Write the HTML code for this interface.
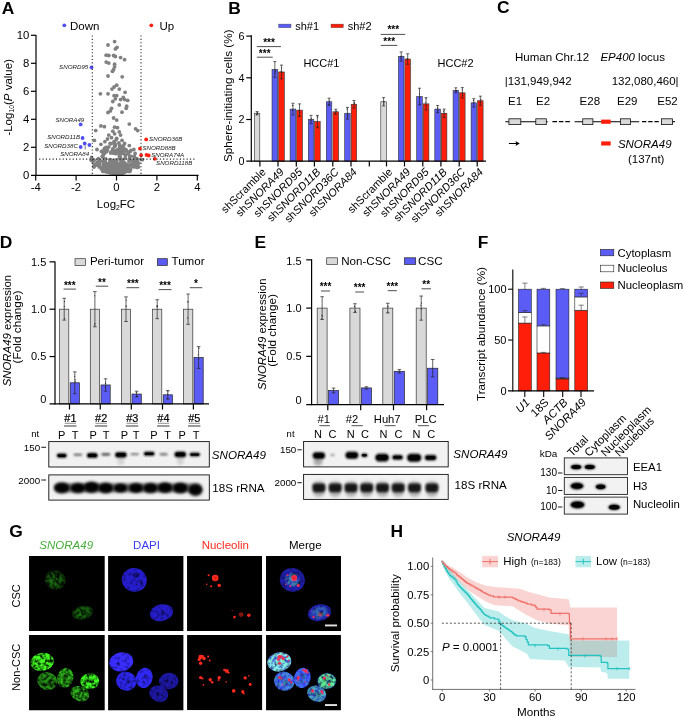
<!DOCTYPE html>
<html lang="en"><head><meta charset="utf-8"><title>Figure</title>
<style>
html,body{margin:0;padding:0;background:#fff;}
svg{display:block;font-family:'Liberation Sans', Arial, sans-serif;}
</style></head>
<body>
<svg width="685" height="718" viewBox="0 0 685 718">
<defs>
<filter id="b1" x="-50%" y="-50%" width="200%" height="200%"><feGaussianBlur stdDeviation="0.9"/></filter>
<filter id="b2" x="-50%" y="-50%" width="200%" height="200%"><feGaussianBlur stdDeviation="1.6"/></filter>
<filter id="b05" x="-50%" y="-50%" width="200%" height="200%"><feGaussianBlur stdDeviation="0.5"/></filter>
<filter id="b03" x="-50%" y="-50%" width="200%" height="200%"><feGaussianBlur stdDeviation="0.35"/></filter>
<filter id="texg" filterUnits="userSpaceOnUse" x="0" y="540" width="360" height="178" color-interpolation-filters="sRGB">
<feGaussianBlur in="SourceGraphic" stdDeviation="0.75" result="b"/>
<feTurbulence type="fractalNoise" baseFrequency="0.3" numOctaves="2" seed="4" result="n"/>
<feColorMatrix in="n" type="matrix" values="0 2.4 0 0 -0.52  0 2.4 0 0 -0.52  0 2.4 0 0 -0.52  0 0 0 0 1" result="n2"/>
<feComposite in="b" in2="n2" operator="arithmetic" k1="1.0" k2="0.05" k3="0" k4="0"/>
</filter>
<filter id="texb" filterUnits="userSpaceOnUse" x="0" y="540" width="360" height="178" color-interpolation-filters="sRGB">
<feGaussianBlur in="SourceGraphic" stdDeviation="0.75" result="b"/>
<feTurbulence type="fractalNoise" baseFrequency="0.3" numOctaves="2" seed="11" result="n"/>
<feColorMatrix in="n" type="matrix" values="0 0 1.1 0 0.36  0 0 1.1 0 0.36  0 0 1.1 0 0.36  0 0 0 0 1" result="n2"/>
<feComposite in="b" in2="n2" operator="arithmetic" k1="1.0" k2="0.05" k3="0" k4="0"/>
</filter>
</defs>

<rect x="0" y="0" width="685" height="718" fill="#fff"/>
<text x="1.75" y="14.10" font-size="17.4" font-weight="bold">A</text>
<circle cx="114.6" cy="41.6" r="1.9" fill="#808080"/>
<circle cx="108.0" cy="45.0" r="1.9" fill="#808080"/>
<circle cx="117.0" cy="47.3" r="1.9" fill="#808080"/>
<circle cx="115.4" cy="48.9" r="1.9" fill="#808080"/>
<circle cx="106.2" cy="55.2" r="1.9" fill="#808080"/>
<circle cx="108.8" cy="55.5" r="1.9" fill="#808080"/>
<circle cx="113.6" cy="55.5" r="1.9" fill="#808080"/>
<circle cx="115.4" cy="56.5" r="1.9" fill="#808080"/>
<circle cx="120.6" cy="57.6" r="1.9" fill="#808080"/>
<circle cx="124.6" cy="59.7" r="1.9" fill="#808080"/>
<circle cx="106.2" cy="62.1" r="1.9" fill="#808080"/>
<circle cx="108.8" cy="63.1" r="1.9" fill="#808080"/>
<circle cx="114.6" cy="64.2" r="1.9" fill="#808080"/>
<circle cx="114.6" cy="66.8" r="1.9" fill="#808080"/>
<circle cx="113.6" cy="69.4" r="1.9" fill="#808080"/>
<circle cx="112.5" cy="71.3" r="1.9" fill="#808080"/>
<circle cx="108.0" cy="76.0" r="1.9" fill="#808080"/>
<circle cx="122.2" cy="76.8" r="1.9" fill="#808080"/>
<circle cx="116.7" cy="85.2" r="1.9" fill="#808080"/>
<circle cx="114.1" cy="87.0" r="1.9" fill="#808080"/>
<circle cx="112.0" cy="89.1" r="1.9" fill="#808080"/>
<circle cx="119.3" cy="89.1" r="1.9" fill="#808080"/>
<circle cx="125.1" cy="92.3" r="1.9" fill="#808080"/>
<circle cx="100.4" cy="93.8" r="1.9" fill="#808080"/>
<circle cx="108.0" cy="93.8" r="1.9" fill="#808080"/>
<circle cx="114.1" cy="95.7" r="1.9" fill="#808080"/>
<circle cx="123.3" cy="97.5" r="1.9" fill="#808080"/>
<circle cx="116.7" cy="95.7" r="1.9" fill="#808080"/>
<circle cx="115.4" cy="98.8" r="1.9" fill="#808080"/>
<circle cx="120.6" cy="99.6" r="1.9" fill="#808080"/>
<circle cx="124.6" cy="99.6" r="1.9" fill="#808080"/>
<circle cx="127.7" cy="100.4" r="1.9" fill="#808080"/>
<circle cx="112.8" cy="101.5" r="1.9" fill="#808080"/>
<circle cx="119.3" cy="104.9" r="1.9" fill="#808080"/>
<circle cx="126.7" cy="106.2" r="1.9" fill="#808080"/>
<circle cx="126.2" cy="108.3" r="1.9" fill="#808080"/>
<circle cx="111.5" cy="108.3" r="1.9" fill="#808080"/>
<circle cx="110.4" cy="110.9" r="1.9" fill="#808080"/>
<circle cx="108.0" cy="112.5" r="1.9" fill="#808080"/>
<circle cx="122.0" cy="112.2" r="1.9" fill="#808080"/>
<circle cx="113.6" cy="118.0" r="1.9" fill="#808080"/>
<circle cx="116.7" cy="120.1" r="1.9" fill="#808080"/>
<circle cx="129.3" cy="124.1" r="1.9" fill="#808080"/>
<circle cx="100.9" cy="125.9" r="1.9" fill="#808080"/>
<circle cx="104.4" cy="126.7" r="1.9" fill="#808080"/>
<circle cx="95.7" cy="130.6" r="1.9" fill="#808080"/>
<circle cx="114.6" cy="127.2" r="1.9" fill="#808080"/>
<circle cx="117.5" cy="127.7" r="1.9" fill="#808080"/>
<circle cx="135.6" cy="128.8" r="1.9" fill="#808080"/>
<circle cx="137.7" cy="130.6" r="1.9" fill="#808080"/>
<circle cx="112.8" cy="131.2" r="1.9" fill="#808080"/>
<circle cx="119.3" cy="131.9" r="1.9" fill="#808080"/>
<circle cx="114.6" cy="133.8" r="1.9" fill="#808080"/>
<circle cx="108.8" cy="135.1" r="1.9" fill="#808080"/>
<circle cx="120.6" cy="135.1" r="1.9" fill="#808080"/>
<circle cx="111.5" cy="137.7" r="1.9" fill="#808080"/>
<circle cx="116.7" cy="138.3" r="1.9" fill="#808080"/>
<circle cx="107.5" cy="139.0" r="1.9" fill="#808080"/>
<circle cx="122.0" cy="140.4" r="1.9" fill="#808080"/>
<circle cx="104.9" cy="141.7" r="1.9" fill="#808080"/>
<circle cx="114.1" cy="141.7" r="1.9" fill="#808080"/>
<circle cx="118.8" cy="143.0" r="1.9" fill="#808080"/>
<circle cx="110.1" cy="143.5" r="1.9" fill="#808080"/>
<circle cx="124.6" cy="143.5" r="1.9" fill="#808080"/>
<circle cx="100.9" cy="144.3" r="1.9" fill="#808080"/>
<circle cx="115.4" cy="145.6" r="1.9" fill="#808080"/>
<circle cx="120.6" cy="146.9" r="1.9" fill="#808080"/>
<circle cx="108.8" cy="146.9" r="1.9" fill="#808080"/>
<circle cx="129.3" cy="145.6" r="1.9" fill="#808080"/>
<circle cx="133.8" cy="149.5" r="1.9" fill="#808080"/>
<circle cx="97.0" cy="149.5" r="1.9" fill="#808080"/>
<circle cx="104.9" cy="148.2" r="1.9" fill="#808080"/>
<circle cx="112.8" cy="148.8" r="1.9" fill="#808080"/>
<circle cx="118.0" cy="149.5" r="1.9" fill="#808080"/>
<circle cx="123.3" cy="150.3" r="1.9" fill="#808080"/>
<circle cx="101.5" cy="151.4" r="1.9" fill="#808080"/>
<circle cx="94.4" cy="140.4" r="1.9" fill="#808080"/>
<circle cx="135.1" cy="153.5" r="1.9" fill="#808080"/>
<circle cx="128.5" cy="152.2" r="1.9" fill="#808080"/>
<circle cx="112.7" cy="173.0" r="1.85" fill="#808080"/>
<circle cx="122.3" cy="172.7" r="1.85" fill="#808080"/>
<circle cx="128.9" cy="171.5" r="1.85" fill="#808080"/>
<circle cx="119.0" cy="172.9" r="1.85" fill="#808080"/>
<circle cx="94.7" cy="164.2" r="1.85" fill="#808080"/>
<circle cx="94.1" cy="165.7" r="1.85" fill="#808080"/>
<circle cx="119.8" cy="150.5" r="1.85" fill="#808080"/>
<circle cx="120.8" cy="159.9" r="1.85" fill="#808080"/>
<circle cx="111.6" cy="172.0" r="1.85" fill="#808080"/>
<circle cx="114.6" cy="170.3" r="1.85" fill="#808080"/>
<circle cx="105.8" cy="158.8" r="1.85" fill="#808080"/>
<circle cx="119.0" cy="164.1" r="1.85" fill="#808080"/>
<circle cx="114.6" cy="173.0" r="1.85" fill="#808080"/>
<circle cx="105.7" cy="169.9" r="1.85" fill="#808080"/>
<circle cx="133.9" cy="163.1" r="1.85" fill="#808080"/>
<circle cx="120.4" cy="157.4" r="1.85" fill="#808080"/>
<circle cx="103.8" cy="150.7" r="1.85" fill="#808080"/>
<circle cx="109.2" cy="172.0" r="1.85" fill="#808080"/>
<circle cx="92.1" cy="160.0" r="1.85" fill="#808080"/>
<circle cx="114.6" cy="172.6" r="1.85" fill="#808080"/>
<circle cx="113.6" cy="153.1" r="1.85" fill="#808080"/>
<circle cx="116.1" cy="173.4" r="1.85" fill="#808080"/>
<circle cx="128.4" cy="154.1" r="1.85" fill="#808080"/>
<circle cx="122.5" cy="169.2" r="1.85" fill="#808080"/>
<circle cx="108.3" cy="170.7" r="1.85" fill="#808080"/>
<circle cx="116.9" cy="161.0" r="1.85" fill="#808080"/>
<circle cx="125.0" cy="168.2" r="1.85" fill="#808080"/>
<circle cx="103.4" cy="164.5" r="1.85" fill="#808080"/>
<circle cx="114.0" cy="152.0" r="1.85" fill="#808080"/>
<circle cx="112.2" cy="168.2" r="1.85" fill="#808080"/>
<circle cx="130.0" cy="171.3" r="1.85" fill="#808080"/>
<circle cx="126.7" cy="169.3" r="1.85" fill="#808080"/>
<circle cx="123.1" cy="169.2" r="1.85" fill="#808080"/>
<circle cx="115.9" cy="159.9" r="1.85" fill="#808080"/>
<circle cx="115.7" cy="173.1" r="1.85" fill="#808080"/>
<circle cx="127.5" cy="165.0" r="1.85" fill="#808080"/>
<circle cx="120.9" cy="171.1" r="1.85" fill="#808080"/>
<circle cx="118.9" cy="173.5" r="1.85" fill="#808080"/>
<circle cx="109.0" cy="172.1" r="1.85" fill="#808080"/>
<circle cx="114.6" cy="146.5" r="1.85" fill="#808080"/>
<circle cx="115.1" cy="151.9" r="1.85" fill="#808080"/>
<circle cx="127.8" cy="167.7" r="1.85" fill="#808080"/>
<circle cx="129.6" cy="156.8" r="1.85" fill="#808080"/>
<circle cx="115.3" cy="169.3" r="1.85" fill="#808080"/>
<circle cx="106.9" cy="170.6" r="1.85" fill="#808080"/>
<circle cx="104.8" cy="152.5" r="1.85" fill="#808080"/>
<circle cx="127.3" cy="170.6" r="1.85" fill="#808080"/>
<circle cx="112.6" cy="160.7" r="1.85" fill="#808080"/>
<circle cx="123.6" cy="153.4" r="1.85" fill="#808080"/>
<circle cx="103.8" cy="153.4" r="1.85" fill="#808080"/>
<circle cx="115.9" cy="150.3" r="1.85" fill="#808080"/>
<circle cx="101.6" cy="151.6" r="1.85" fill="#808080"/>
<circle cx="91.2" cy="160.2" r="1.85" fill="#808080"/>
<circle cx="133.5" cy="160.6" r="1.85" fill="#808080"/>
<circle cx="130.1" cy="159.9" r="1.85" fill="#808080"/>
<circle cx="134.5" cy="166.9" r="1.85" fill="#808080"/>
<circle cx="133.7" cy="156.6" r="1.85" fill="#808080"/>
<circle cx="112.6" cy="150.1" r="1.85" fill="#808080"/>
<circle cx="115.8" cy="161.2" r="1.85" fill="#808080"/>
<circle cx="126.3" cy="171.2" r="1.85" fill="#808080"/>
<circle cx="107.5" cy="149.9" r="1.85" fill="#808080"/>
<circle cx="126.9" cy="164.5" r="1.85" fill="#808080"/>
<circle cx="113.5" cy="172.3" r="1.85" fill="#808080"/>
<circle cx="115.5" cy="172.6" r="1.85" fill="#808080"/>
<circle cx="113.4" cy="164.5" r="1.85" fill="#808080"/>
<circle cx="100.1" cy="166.8" r="1.85" fill="#808080"/>
<circle cx="116.0" cy="164.4" r="1.85" fill="#808080"/>
<circle cx="126.0" cy="149.5" r="1.85" fill="#808080"/>
<circle cx="104.6" cy="160.3" r="1.85" fill="#808080"/>
<circle cx="106.2" cy="166.1" r="1.85" fill="#808080"/>
<circle cx="107.9" cy="169.5" r="1.85" fill="#808080"/>
<circle cx="91.6" cy="157.4" r="1.85" fill="#808080"/>
<circle cx="125.7" cy="171.1" r="1.85" fill="#808080"/>
<circle cx="125.3" cy="155.7" r="1.85" fill="#808080"/>
<circle cx="127.1" cy="170.3" r="1.85" fill="#808080"/>
<circle cx="132.3" cy="165.9" r="1.85" fill="#808080"/>
<circle cx="104.3" cy="153.6" r="1.85" fill="#808080"/>
<circle cx="124.5" cy="165.1" r="1.85" fill="#808080"/>
<circle cx="119.6" cy="173.2" r="1.85" fill="#808080"/>
<circle cx="126.2" cy="171.5" r="1.85" fill="#808080"/>
<circle cx="105.2" cy="150.4" r="1.85" fill="#808080"/>
<circle cx="105.4" cy="169.4" r="1.85" fill="#808080"/>
<circle cx="137.0" cy="167.4" r="1.85" fill="#808080"/>
<circle cx="121.3" cy="151.0" r="1.85" fill="#808080"/>
<circle cx="132.5" cy="160.3" r="1.85" fill="#808080"/>
<circle cx="138.6" cy="166.9" r="1.85" fill="#808080"/>
<circle cx="142.5" cy="159.7" r="1.85" fill="#808080"/>
<circle cx="128.9" cy="169.2" r="1.85" fill="#808080"/>
<circle cx="105.0" cy="150.8" r="1.85" fill="#808080"/>
<circle cx="119.2" cy="164.1" r="1.85" fill="#808080"/>
<circle cx="121.6" cy="172.1" r="1.85" fill="#808080"/>
<circle cx="120.6" cy="154.2" r="1.85" fill="#808080"/>
<circle cx="108.1" cy="172.1" r="1.85" fill="#808080"/>
<circle cx="115.9" cy="153.7" r="1.85" fill="#808080"/>
<circle cx="121.2" cy="172.4" r="1.85" fill="#808080"/>
<circle cx="129.1" cy="165.9" r="1.85" fill="#808080"/>
<circle cx="104.2" cy="148.8" r="1.85" fill="#808080"/>
<circle cx="125.2" cy="158.3" r="1.85" fill="#808080"/>
<circle cx="106.3" cy="171.9" r="1.85" fill="#808080"/>
<circle cx="122.4" cy="170.7" r="1.85" fill="#808080"/>
<circle cx="136.6" cy="159.9" r="1.85" fill="#808080"/>
<circle cx="128.1" cy="169.7" r="1.85" fill="#808080"/>
<circle cx="123.4" cy="145.6" r="1.85" fill="#808080"/>
<circle cx="127.3" cy="169.7" r="1.85" fill="#808080"/>
<circle cx="111.6" cy="168.9" r="1.85" fill="#808080"/>
<circle cx="126.8" cy="170.3" r="1.85" fill="#808080"/>
<circle cx="125.7" cy="168.4" r="1.85" fill="#808080"/>
<circle cx="116.2" cy="170.4" r="1.85" fill="#808080"/>
<circle cx="102.7" cy="161.3" r="1.85" fill="#808080"/>
<circle cx="108.0" cy="167.4" r="1.85" fill="#808080"/>
<circle cx="123.0" cy="160.1" r="1.85" fill="#808080"/>
<circle cx="115.2" cy="144.1" r="1.85" fill="#808080"/>
<circle cx="113.6" cy="164.3" r="1.85" fill="#808080"/>
<circle cx="93.1" cy="160.0" r="1.85" fill="#808080"/>
<circle cx="93.0" cy="161.2" r="1.85" fill="#808080"/>
<circle cx="102.6" cy="171.1" r="1.85" fill="#808080"/>
<circle cx="134.7" cy="163.2" r="1.85" fill="#808080"/>
<circle cx="130.5" cy="164.4" r="1.85" fill="#808080"/>
<circle cx="122.0" cy="164.3" r="1.85" fill="#808080"/>
<circle cx="96.0" cy="164.8" r="1.85" fill="#808080"/>
<circle cx="124.7" cy="170.7" r="1.85" fill="#808080"/>
<circle cx="120.3" cy="165.2" r="1.85" fill="#808080"/>
<circle cx="97.1" cy="162.1" r="1.85" fill="#808080"/>
<circle cx="118.4" cy="172.9" r="1.85" fill="#808080"/>
<circle cx="115.4" cy="173.6" r="1.85" fill="#808080"/>
<circle cx="105.2" cy="161.6" r="1.85" fill="#808080"/>
<circle cx="111.2" cy="166.4" r="1.85" fill="#808080"/>
<circle cx="106.6" cy="151.7" r="1.85" fill="#808080"/>
<circle cx="111.9" cy="166.9" r="1.85" fill="#808080"/>
<circle cx="129.3" cy="170.2" r="1.85" fill="#808080"/>
<circle cx="113.2" cy="162.2" r="1.85" fill="#808080"/>
<circle cx="111.2" cy="151.9" r="1.85" fill="#808080"/>
<circle cx="130.7" cy="156.1" r="1.85" fill="#808080"/>
<circle cx="103.2" cy="171.5" r="1.85" fill="#808080"/>
<circle cx="105.8" cy="169.3" r="1.85" fill="#808080"/>
<circle cx="119.1" cy="173.3" r="1.85" fill="#808080"/>
<circle cx="119.3" cy="155.8" r="1.85" fill="#808080"/>
<circle cx="110.5" cy="168.9" r="1.85" fill="#808080"/>
<circle cx="132.6" cy="166.5" r="1.85" fill="#808080"/>
<circle cx="115.8" cy="173.3" r="1.85" fill="#808080"/>
<circle cx="109.4" cy="170.8" r="1.85" fill="#808080"/>
<circle cx="120.4" cy="146.7" r="1.85" fill="#808080"/>
<circle cx="127.1" cy="151.7" r="1.85" fill="#808080"/>
<circle cx="96.9" cy="165.2" r="1.85" fill="#808080"/>
<circle cx="109.8" cy="160.1" r="1.85" fill="#808080"/>
<circle cx="124.6" cy="166.7" r="1.85" fill="#808080"/>
<circle cx="109.8" cy="170.2" r="1.85" fill="#808080"/>
<circle cx="135.5" cy="165.2" r="1.85" fill="#808080"/>
<circle cx="119.6" cy="144.8" r="1.85" fill="#808080"/>
<circle cx="122.4" cy="147.8" r="1.85" fill="#808080"/>
<circle cx="109.4" cy="172.5" r="1.85" fill="#808080"/>
<circle cx="118.0" cy="171.7" r="1.85" fill="#808080"/>
<circle cx="92.2" cy="160.6" r="1.85" fill="#808080"/>
<circle cx="104.8" cy="167.6" r="1.85" fill="#808080"/>
<circle cx="125.2" cy="170.7" r="1.85" fill="#808080"/>
<circle cx="119.7" cy="147.5" r="1.85" fill="#808080"/>
<circle cx="114.6" cy="166.8" r="1.85" fill="#808080"/>
<circle cx="125.3" cy="150.3" r="1.85" fill="#808080"/>
<circle cx="135.2" cy="162.6" r="1.85" fill="#808080"/>
<circle cx="119.9" cy="168.6" r="1.85" fill="#808080"/>
<circle cx="127.2" cy="168.6" r="1.85" fill="#808080"/>
<circle cx="94.0" cy="167.1" r="1.85" fill="#808080"/>
<circle cx="134.6" cy="160.2" r="1.85" fill="#808080"/>
<circle cx="108.7" cy="172.0" r="1.85" fill="#808080"/>
<circle cx="119.0" cy="170.4" r="1.85" fill="#808080"/>
<circle cx="115.7" cy="173.2" r="1.85" fill="#808080"/>
<circle cx="133.7" cy="163.5" r="1.85" fill="#808080"/>
<circle cx="118.7" cy="170.6" r="1.85" fill="#808080"/>
<circle cx="132.6" cy="161.2" r="1.85" fill="#808080"/>
<circle cx="106.8" cy="148.8" r="1.85" fill="#808080"/>
<circle cx="117.3" cy="173.6" r="1.85" fill="#808080"/>
<circle cx="109.9" cy="160.0" r="1.85" fill="#808080"/>
<circle cx="104.3" cy="171.2" r="1.85" fill="#808080"/>
<circle cx="99.2" cy="162.5" r="1.85" fill="#808080"/>
<circle cx="125.0" cy="170.9" r="1.85" fill="#808080"/>
<circle cx="107.1" cy="171.0" r="1.85" fill="#808080"/>
<circle cx="137.4" cy="162.3" r="1.85" fill="#808080"/>
<circle cx="119.3" cy="158.3" r="1.85" fill="#808080"/>
<circle cx="124.1" cy="168.5" r="1.85" fill="#808080"/>
<circle cx="122.7" cy="172.9" r="1.85" fill="#808080"/>
<circle cx="114.8" cy="145.0" r="1.85" fill="#808080"/>
<circle cx="115.4" cy="172.5" r="1.85" fill="#808080"/>
<circle cx="115.8" cy="168.6" r="1.85" fill="#808080"/>
<circle cx="112.7" cy="172.4" r="1.85" fill="#808080"/>
<circle cx="113.7" cy="172.8" r="1.85" fill="#808080"/>
<circle cx="127.3" cy="169.1" r="1.85" fill="#808080"/>
<circle cx="121.7" cy="166.4" r="1.85" fill="#808080"/>
<circle cx="103.9" cy="168.2" r="1.85" fill="#808080"/>
<circle cx="118.4" cy="149.8" r="1.85" fill="#808080"/>
<circle cx="114.0" cy="173.5" r="1.85" fill="#808080"/>
<circle cx="124.4" cy="148.9" r="1.85" fill="#808080"/>
<circle cx="111.2" cy="143.7" r="1.85" fill="#808080"/>
<circle cx="114.4" cy="171.0" r="1.85" fill="#808080"/>
<circle cx="135.7" cy="158.5" r="1.85" fill="#808080"/>
<circle cx="118.5" cy="165.9" r="1.85" fill="#808080"/>
<circle cx="114.9" cy="168.4" r="1.85" fill="#808080"/>
<circle cx="102.7" cy="167.6" r="1.85" fill="#808080"/>
<circle cx="122.1" cy="151.7" r="1.85" fill="#808080"/>
<circle cx="107.2" cy="168.9" r="1.85" fill="#808080"/>
<circle cx="108.9" cy="171.8" r="1.85" fill="#808080"/>
<circle cx="116.0" cy="162.6" r="1.85" fill="#808080"/>
<circle cx="120.5" cy="146.9" r="1.85" fill="#808080"/>
<circle cx="115.4" cy="164.9" r="1.85" fill="#808080"/>
<circle cx="121.1" cy="171.5" r="1.85" fill="#808080"/>
<circle cx="102.2" cy="156.3" r="1.85" fill="#808080"/>
<circle cx="103.0" cy="157.2" r="1.85" fill="#808080"/>
<circle cx="104.8" cy="169.2" r="1.85" fill="#808080"/>
<circle cx="111.0" cy="172.4" r="1.85" fill="#808080"/>
<circle cx="106.1" cy="147.4" r="1.85" fill="#808080"/>
<circle cx="110.6" cy="152.9" r="1.85" fill="#808080"/>
<circle cx="121.7" cy="151.8" r="1.85" fill="#808080"/>
<circle cx="115.6" cy="173.5" r="1.85" fill="#808080"/>
<circle cx="121.8" cy="162.2" r="1.85" fill="#808080"/>
<circle cx="121.4" cy="148.8" r="1.85" fill="#808080"/>
<circle cx="114.5" cy="173.1" r="1.85" fill="#808080"/>
<circle cx="137.6" cy="164.3" r="1.85" fill="#808080"/>
<circle cx="121.2" cy="161.9" r="1.85" fill="#808080"/>
<circle cx="122.5" cy="172.9" r="1.85" fill="#808080"/>
<circle cx="112.4" cy="172.0" r="1.85" fill="#808080"/>
<circle cx="108.7" cy="172.0" r="1.85" fill="#808080"/>
<circle cx="103.4" cy="169.4" r="1.85" fill="#808080"/>
<circle cx="125.6" cy="167.2" r="1.85" fill="#808080"/>
<circle cx="104.9" cy="164.2" r="1.85" fill="#808080"/>
<circle cx="94.2" cy="160.0" r="1.85" fill="#808080"/>
<circle cx="128.4" cy="169.0" r="1.85" fill="#808080"/>
<circle cx="126.6" cy="167.0" r="1.85" fill="#808080"/>
<circle cx="108.3" cy="171.4" r="1.85" fill="#808080"/>
<circle cx="98.9" cy="165.3" r="1.85" fill="#808080"/>
<circle cx="110.2" cy="165.3" r="1.85" fill="#808080"/>
<circle cx="112.7" cy="172.7" r="1.85" fill="#808080"/>
<circle cx="130.8" cy="150.4" r="1.85" fill="#808080"/>
<circle cx="136.9" cy="160.5" r="1.85" fill="#808080"/>
<circle cx="137.3" cy="162.2" r="1.85" fill="#808080"/>
<circle cx="98.9" cy="161.5" r="1.85" fill="#808080"/>
<circle cx="99.9" cy="160.2" r="1.85" fill="#808080"/>
<circle cx="119.5" cy="164.5" r="1.85" fill="#808080"/>
<circle cx="123.9" cy="171.2" r="1.85" fill="#808080"/>
<circle cx="118.8" cy="153.2" r="1.85" fill="#808080"/>
<circle cx="113.7" cy="172.9" r="1.85" fill="#808080"/>
<circle cx="99.2" cy="166.9" r="1.85" fill="#808080"/>
<circle cx="110.5" cy="159.7" r="1.85" fill="#808080"/>
<circle cx="113.4" cy="165.4" r="1.85" fill="#808080"/>
<circle cx="116.9" cy="150.8" r="1.85" fill="#808080"/>
<circle cx="122.0" cy="172.7" r="1.85" fill="#808080"/>
<circle cx="128.7" cy="167.8" r="1.85" fill="#808080"/>
<circle cx="133.1" cy="163.9" r="1.85" fill="#808080"/>
<circle cx="120.4" cy="173.1" r="1.85" fill="#808080"/>
<circle cx="93.8" cy="166.5" r="1.85" fill="#808080"/>
<circle cx="137.2" cy="158.9" r="1.85" fill="#808080"/>
<circle cx="130.4" cy="151.4" r="1.85" fill="#808080"/>
<circle cx="114.2" cy="142.2" r="1.85" fill="#808080"/>
<circle cx="103.4" cy="154.6" r="1.85" fill="#808080"/>
<circle cx="132.8" cy="166.5" r="1.85" fill="#808080"/>
<circle cx="123.4" cy="165.5" r="1.85" fill="#808080"/>
<circle cx="111.8" cy="172.3" r="1.85" fill="#808080"/>
<circle cx="133.3" cy="165.8" r="1.85" fill="#808080"/>
<circle cx="108.5" cy="165.2" r="1.85" fill="#808080"/>
<circle cx="99.7" cy="164.2" r="1.85" fill="#808080"/>
<circle cx="135.5" cy="161.2" r="1.85" fill="#808080"/>
<circle cx="98.3" cy="158.7" r="1.85" fill="#808080"/>
<circle cx="129.7" cy="159.0" r="1.85" fill="#808080"/>
<circle cx="125.1" cy="154.3" r="1.85" fill="#808080"/>
<circle cx="134.4" cy="156.3" r="1.85" fill="#808080"/>
<circle cx="110.3" cy="173.0" r="1.85" fill="#808080"/>
<circle cx="106.6" cy="166.8" r="1.85" fill="#808080"/>
<circle cx="121.2" cy="159.5" r="1.85" fill="#808080"/>
<circle cx="111.8" cy="169.5" r="1.85" fill="#808080"/>
<circle cx="110.3" cy="162.3" r="1.85" fill="#808080"/>
<circle cx="122.9" cy="165.9" r="1.85" fill="#808080"/>
<circle cx="124.5" cy="172.4" r="1.85" fill="#808080"/>
<circle cx="112.3" cy="152.8" r="1.85" fill="#808080"/>
<circle cx="115.7" cy="162.2" r="1.85" fill="#808080"/>
<circle cx="117.8" cy="166.8" r="1.85" fill="#808080"/>
<circle cx="114.9" cy="173.4" r="1.85" fill="#808080"/>
<circle cx="106.5" cy="170.2" r="1.85" fill="#808080"/>
<circle cx="116.3" cy="139.6" r="1.85" fill="#808080"/>
<circle cx="114.0" cy="160.8" r="1.85" fill="#808080"/>
<circle cx="101.4" cy="168.9" r="1.85" fill="#808080"/>
<circle cx="98.1" cy="163.2" r="1.85" fill="#808080"/>
<circle cx="115.6" cy="153.1" r="1.85" fill="#808080"/>
<circle cx="114.5" cy="166.5" r="1.85" fill="#808080"/>
<circle cx="123.1" cy="169.9" r="1.85" fill="#808080"/>
<circle cx="121.5" cy="150.0" r="1.85" fill="#808080"/>
<circle cx="114.3" cy="151.4" r="1.85" fill="#808080"/>
<circle cx="131.7" cy="164.4" r="1.85" fill="#808080"/>
<circle cx="121.2" cy="171.3" r="1.85" fill="#808080"/>
<circle cx="141.1" cy="159.4" r="1.85" fill="#808080"/>
<circle cx="103.9" cy="169.8" r="1.85" fill="#808080"/>
<circle cx="138.7" cy="163.0" r="1.85" fill="#808080"/>
<circle cx="125.1" cy="164.4" r="1.85" fill="#808080"/>
<circle cx="114.9" cy="169.2" r="1.85" fill="#808080"/>
<circle cx="114.4" cy="171.4" r="1.85" fill="#808080"/>
<circle cx="105.7" cy="170.0" r="1.85" fill="#808080"/>
<circle cx="119.9" cy="172.4" r="1.85" fill="#808080"/>
<circle cx="113.7" cy="169.9" r="1.85" fill="#808080"/>
<circle cx="117.3" cy="166.8" r="1.85" fill="#808080"/>
<circle cx="117.6" cy="166.7" r="1.85" fill="#808080"/>
<circle cx="115.8" cy="170.0" r="1.85" fill="#808080"/>
<circle cx="113.1" cy="165.1" r="1.85" fill="#808080"/>
<circle cx="118.4" cy="164.5" r="1.85" fill="#808080"/>
<circle cx="114.2" cy="172.3" r="1.85" fill="#808080"/>
<circle cx="117.2" cy="165.3" r="1.85" fill="#808080"/>
<circle cx="119.9" cy="166.9" r="1.85" fill="#808080"/>
<circle cx="121.3" cy="172.1" r="1.85" fill="#808080"/>
<circle cx="105.9" cy="164.6" r="1.85" fill="#808080"/>
<circle cx="118.1" cy="173.3" r="1.85" fill="#808080"/>
<circle cx="122.9" cy="170.0" r="1.85" fill="#808080"/>
<circle cx="114.4" cy="164.0" r="1.85" fill="#808080"/>
<circle cx="108.5" cy="163.7" r="1.85" fill="#808080"/>
<circle cx="114.6" cy="169.2" r="1.85" fill="#808080"/>
<circle cx="114.7" cy="170.1" r="1.85" fill="#808080"/>
<circle cx="113.3" cy="164.9" r="1.85" fill="#808080"/>
<circle cx="106.5" cy="164.2" r="1.85" fill="#808080"/>
<circle cx="116.3" cy="166.1" r="1.85" fill="#808080"/>
<circle cx="116.5" cy="173.6" r="1.85" fill="#808080"/>
<circle cx="106.7" cy="169.0" r="1.85" fill="#808080"/>
<circle cx="116.6" cy="170.2" r="1.85" fill="#808080"/>
<circle cx="119.2" cy="170.5" r="1.85" fill="#808080"/>
<circle cx="110.6" cy="166.1" r="1.85" fill="#808080"/>
<circle cx="112.2" cy="172.2" r="1.85" fill="#808080"/>
<circle cx="116.1" cy="166.8" r="1.85" fill="#808080"/>
<circle cx="118.7" cy="169.5" r="1.85" fill="#808080"/>
<circle cx="105.0" cy="162.3" r="1.85" fill="#808080"/>
<circle cx="130.6" cy="169.3" r="1.85" fill="#808080"/>
<circle cx="124.8" cy="163.5" r="1.85" fill="#808080"/>
<circle cx="108.2" cy="169.1" r="1.85" fill="#808080"/>
<circle cx="116.0" cy="168.4" r="1.85" fill="#808080"/>
<circle cx="116.5" cy="170.2" r="1.85" fill="#808080"/>
<circle cx="102.6" cy="168.7" r="1.85" fill="#808080"/>
<circle cx="122.7" cy="170.7" r="1.85" fill="#808080"/>
<circle cx="106.2" cy="163.8" r="1.85" fill="#808080"/>
<circle cx="112.4" cy="164.5" r="1.85" fill="#808080"/>
<circle cx="114.1" cy="171.6" r="1.85" fill="#808080"/>
<circle cx="112.1" cy="171.4" r="1.85" fill="#808080"/>
<circle cx="128.0" cy="169.2" r="1.85" fill="#808080"/>
<circle cx="111.6" cy="169.9" r="1.85" fill="#808080"/>
<circle cx="124.8" cy="162.9" r="1.85" fill="#808080"/>
<circle cx="115.6" cy="172.6" r="1.85" fill="#808080"/>
<circle cx="112.4" cy="163.5" r="1.85" fill="#808080"/>
<circle cx="119.8" cy="171.4" r="1.85" fill="#808080"/>
<circle cx="103.5" cy="168.5" r="1.85" fill="#808080"/>
<circle cx="118.3" cy="169.6" r="1.85" fill="#808080"/>
<circle cx="123.8" cy="165.1" r="1.85" fill="#808080"/>
<circle cx="104.7" cy="169.3" r="1.85" fill="#808080"/>
<circle cx="116.1" cy="169.6" r="1.85" fill="#808080"/>
<circle cx="115.1" cy="167.9" r="1.85" fill="#808080"/>
<circle cx="98.5" cy="161.8" r="1.85" fill="#808080"/>
<circle cx="117.8" cy="165.9" r="1.85" fill="#808080"/>
<circle cx="128.9" cy="161.3" r="1.85" fill="#808080"/>
<circle cx="111.1" cy="169.8" r="1.85" fill="#808080"/>
<circle cx="105.6" cy="169.7" r="1.85" fill="#808080"/>
<circle cx="103.7" cy="163.3" r="1.85" fill="#808080"/>
<circle cx="122.9" cy="168.6" r="1.85" fill="#808080"/>
<circle cx="105.3" cy="164.4" r="1.85" fill="#808080"/>
<circle cx="119.2" cy="171.5" r="1.85" fill="#808080"/>
<circle cx="108.2" cy="167.3" r="1.85" fill="#808080"/>
<circle cx="104.5" cy="168.8" r="1.85" fill="#808080"/>
<circle cx="111.5" cy="163.5" r="1.85" fill="#808080"/>
<circle cx="114.8" cy="172.5" r="1.85" fill="#808080"/>
<circle cx="107.1" cy="166.1" r="1.85" fill="#808080"/>
<circle cx="111.5" cy="164.7" r="1.85" fill="#808080"/>
<circle cx="107.9" cy="169.0" r="1.85" fill="#808080"/>
<circle cx="115.0" cy="169.7" r="1.85" fill="#808080"/>
<circle cx="116.4" cy="170.1" r="1.85" fill="#808080"/>
<circle cx="112.0" cy="170.6" r="1.85" fill="#808080"/>
<circle cx="115.0" cy="169.4" r="1.85" fill="#808080"/>
<circle cx="116.9" cy="170.2" r="1.85" fill="#808080"/>
<circle cx="115.5" cy="164.4" r="1.85" fill="#808080"/>
<circle cx="121.8" cy="170.7" r="1.85" fill="#808080"/>
<circle cx="91.5" cy="67.3" r="1.9" fill="#4f4ff5"/>
<circle cx="80.7" cy="124.4" r="1.9" fill="#4f4ff5"/>
<circle cx="82.6" cy="138.0" r="1.9" fill="#4f4ff5"/>
<circle cx="84.7" cy="143.5" r="1.9" fill="#4f4ff5"/>
<circle cx="89.4" cy="145.0" r="1.9" fill="#4f4ff5"/>
<circle cx="80.7" cy="147.0" r="1.9" fill="#4f4ff5"/>
<circle cx="146.2" cy="139.4" r="1.9" fill="#ff2010"/>
<circle cx="139.9" cy="148.6" r="1.9" fill="#ff2010"/>
<circle cx="141.1" cy="155.2" r="1.9" fill="#ff2010"/>
<circle cx="146.5" cy="154.9" r="1.9" fill="#ff2010"/>
<circle cx="148.7" cy="155.5" r="1.9" fill="#ff2010"/>
<circle cx="154.8" cy="158.8" r="1.9" fill="#ff2010"/>
<line x1="92.30" y1="35.50" x2="92.30" y2="175.00" stroke="#222" stroke-width="1.1" stroke-dasharray="1.1 2.25"/>
<line x1="141.00" y1="35.50" x2="141.00" y2="175.00" stroke="#222" stroke-width="1.1" stroke-dasharray="1.1 2.25"/>
<line x1="39.20" y1="159.10" x2="195.50" y2="159.10" stroke="#222" stroke-width="1.1" stroke-dasharray="1.1 2.25"/>
<line x1="36.00" y1="35.00" x2="36.00" y2="175.90" stroke="#000" stroke-width="1.2" />
<line x1="31.00" y1="175.30" x2="198.60" y2="175.30" stroke="#000" stroke-width="1.2" />
<line x1="31.00" y1="35.30" x2="36.00" y2="35.30" stroke="#000" stroke-width="1.2" />
<line x1="31.00" y1="63.30" x2="36.00" y2="63.30" stroke="#000" stroke-width="1.2" />
<line x1="31.00" y1="91.30" x2="36.00" y2="91.30" stroke="#000" stroke-width="1.2" />
<line x1="31.00" y1="119.30" x2="36.00" y2="119.30" stroke="#000" stroke-width="1.2" />
<line x1="31.00" y1="147.30" x2="36.00" y2="147.30" stroke="#000" stroke-width="1.2" />
<text x="29.30" y="39.30" font-size="11.3" text-anchor="end">10</text>
<text x="29.30" y="67.30" font-size="11.3" text-anchor="end">8</text>
<text x="29.30" y="95.30" font-size="11.3" text-anchor="end">6</text>
<text x="29.30" y="123.30" font-size="11.3" text-anchor="end">4</text>
<text x="29.30" y="151.30" font-size="11.3" text-anchor="end">2</text>
<text x="29.30" y="179.30" font-size="11.3" text-anchor="end">0</text>
<line x1="35.70" y1="175.30" x2="35.70" y2="180.50" stroke="#000" stroke-width="1.2" />
<text x="35.70" y="191.00" font-size="11.3" text-anchor="middle">-4</text>
<line x1="76.10" y1="175.30" x2="76.10" y2="180.50" stroke="#000" stroke-width="1.2" />
<text x="76.10" y="191.00" font-size="11.3" text-anchor="middle">-2</text>
<line x1="116.50" y1="175.30" x2="116.50" y2="180.50" stroke="#000" stroke-width="1.2" />
<text x="116.50" y="191.00" font-size="11.3" text-anchor="middle">0</text>
<line x1="156.90" y1="175.30" x2="156.90" y2="180.50" stroke="#000" stroke-width="1.2" />
<text x="156.90" y="191.00" font-size="11.3" text-anchor="middle">2</text>
<line x1="197.30" y1="175.30" x2="197.30" y2="180.50" stroke="#000" stroke-width="1.2" />
<text x="197.30" y="191.00" font-size="11.3" text-anchor="middle">4</text>
<text x="116.00" y="207.50" font-size="11.5" text-anchor="middle">Log<tspan font-size="6.8" dy="2.2">2</tspan><tspan dy="-2.2">FC</tspan></text>
<text x="11.60" y="97.30" font-size="11.5" text-anchor="middle" transform="rotate(-90 11.60 97.30)">-Log<tspan font-size="6.8" dy="2.2">10</tspan><tspan dy="-2.2">(</tspan><tspan font-style="italic">P</tspan> value)</text>
<circle cx="64.3" cy="25.3" r="1.9" fill="#4f4ff5"/>
<text x="70.00" y="29.60" font-size="11.5">Down</text>
<circle cx="151.3" cy="25.3" r="1.9" fill="#ff2010"/>
<text x="159.50" y="29.60" font-size="11.5">Up</text>
<text x="88.30" y="69.00" font-size="6.2" text-anchor="end" font-style="italic" fill="#222">SNORD95</text>
<text x="84.30" y="121.60" font-size="6.2" text-anchor="end" font-style="italic" fill="#222">SNORA49</text>
<text x="80.10" y="138.70" font-size="6.2" text-anchor="end" font-style="italic" fill="#222">SNORD11B</text>
<text x="77.90" y="148.20" font-size="6.2" text-anchor="end" font-style="italic" fill="#222">SNORD38C</text>
<text x="89.10" y="155.80" font-size="6.2" text-anchor="end" font-style="italic" fill="#222">SNORA84</text>
<line x1="85.20" y1="145.50" x2="85.20" y2="149.50" stroke="#222" stroke-width="0.6" />
<text x="149.10" y="140.60" font-size="6.2" font-style="italic" fill="#222">SNORD36B</text>
<text x="142.40" y="150.10" font-size="6.2" font-style="italic" fill="#222">SNORD88B</text>
<text x="151.20" y="156.50" font-size="6.2" font-style="italic" fill="#222">SNORA74A</text>
<text x="156.00" y="164.70" font-size="6.2" font-style="italic" fill="#222">SNORD118B</text>
<text x="228.30" y="14.10" font-size="17.4" font-weight="bold">B</text>
<rect x="254.30" y="113.24" width="5.50" height="47.95" fill="#d9d9d9" stroke="#333" stroke-width="0.6" />
<line x1="257.05" y1="111.58" x2="257.05" y2="114.91" stroke="#222" stroke-width="0.7" />
<line x1="255.55" y1="111.58" x2="258.55" y2="111.58" stroke="#222" stroke-width="0.7" />
<line x1="255.55" y1="114.91" x2="258.55" y2="114.91" stroke="#222" stroke-width="0.7" />
<circle cx="257.5" cy="113.6" r="0.55" fill="#222"/>
<circle cx="256.6" cy="114.4" r="0.55" fill="#222"/>
<circle cx="257.5" cy="112.3" r="0.55" fill="#222"/>
<line x1="259.90" y1="161.20" x2="259.90" y2="166.40" stroke="#000" stroke-width="1.2" />
<text x="266.60" y="172.70" font-size="11" text-anchor="end" transform="rotate(-45 266.60 172.70)">shScramble</text>
<rect x="272.00" y="69.46" width="5.70" height="91.74" fill="#5b5bf6" stroke="#333" stroke-width="0.6" />
<line x1="274.85" y1="61.54" x2="274.85" y2="77.38" stroke="#222" stroke-width="0.7" />
<line x1="273.35" y1="61.54" x2="276.35" y2="61.54" stroke="#222" stroke-width="0.7" />
<line x1="273.35" y1="77.38" x2="276.35" y2="77.38" stroke="#222" stroke-width="0.7" />
<circle cx="275.1" cy="69.9" r="0.55" fill="#222"/>
<circle cx="274.9" cy="73.4" r="0.55" fill="#222"/>
<circle cx="275.6" cy="71.6" r="0.55" fill="#222"/>
<rect x="278.60" y="71.96" width="5.70" height="89.24" fill="#ff1e0a" stroke="#333" stroke-width="0.6" />
<line x1="281.45" y1="65.08" x2="281.45" y2="78.84" stroke="#222" stroke-width="0.7" />
<line x1="279.95" y1="65.08" x2="282.95" y2="65.08" stroke="#222" stroke-width="0.7" />
<line x1="279.95" y1="78.84" x2="282.95" y2="78.84" stroke="#222" stroke-width="0.7" />
<circle cx="281.7" cy="68.0" r="0.55" fill="#222"/>
<circle cx="282.0" cy="72.4" r="0.55" fill="#222"/>
<circle cx="281.1" cy="71.4" r="0.55" fill="#222"/>
<line x1="278.00" y1="161.20" x2="278.00" y2="166.40" stroke="#000" stroke-width="1.2" />
<text x="284.70" y="172.70" font-size="11" text-anchor="end" transform="rotate(-45 284.70 172.70)">sh<tspan font-style="italic">SNORA49</tspan></text>
<rect x="290.10" y="109.07" width="5.70" height="52.12" fill="#5b5bf6" stroke="#333" stroke-width="0.6" />
<line x1="292.95" y1="103.24" x2="292.95" y2="114.91" stroke="#222" stroke-width="0.7" />
<line x1="291.45" y1="103.24" x2="294.45" y2="103.24" stroke="#222" stroke-width="0.7" />
<line x1="291.45" y1="114.91" x2="294.45" y2="114.91" stroke="#222" stroke-width="0.7" />
<circle cx="292.4" cy="105.6" r="0.55" fill="#222"/>
<circle cx="292.7" cy="105.4" r="0.55" fill="#222"/>
<circle cx="292.6" cy="110.4" r="0.55" fill="#222"/>
<rect x="296.70" y="110.12" width="5.70" height="51.08" fill="#ff1e0a" stroke="#333" stroke-width="0.6" />
<line x1="299.55" y1="103.86" x2="299.55" y2="116.37" stroke="#222" stroke-width="0.7" />
<line x1="298.05" y1="103.86" x2="301.05" y2="103.86" stroke="#222" stroke-width="0.7" />
<line x1="298.05" y1="116.37" x2="301.05" y2="116.37" stroke="#222" stroke-width="0.7" />
<circle cx="299.2" cy="110.9" r="0.55" fill="#222"/>
<circle cx="299.0" cy="115.7" r="0.55" fill="#222"/>
<circle cx="299.9" cy="112.6" r="0.55" fill="#222"/>
<line x1="296.30" y1="161.20" x2="296.30" y2="166.40" stroke="#000" stroke-width="1.2" />
<text x="303.00" y="172.70" font-size="11" text-anchor="end" transform="rotate(-45 303.00 172.70)">sh<tspan font-style="italic">SNORD95</tspan></text>
<rect x="308.30" y="119.50" width="5.50" height="41.70" fill="#5b5bf6" stroke="#333" stroke-width="0.6" />
<line x1="311.05" y1="115.33" x2="311.05" y2="123.67" stroke="#222" stroke-width="0.7" />
<line x1="309.55" y1="115.33" x2="312.55" y2="115.33" stroke="#222" stroke-width="0.7" />
<line x1="309.55" y1="123.67" x2="312.55" y2="123.67" stroke="#222" stroke-width="0.7" />
<circle cx="310.6" cy="121.0" r="0.55" fill="#222"/>
<circle cx="311.0" cy="120.0" r="0.55" fill="#222"/>
<circle cx="311.3" cy="118.3" r="0.55" fill="#222"/>
<rect x="314.60" y="121.58" width="5.60" height="39.62" fill="#ff1e0a" stroke="#333" stroke-width="0.6" />
<line x1="317.40" y1="115.33" x2="317.40" y2="127.84" stroke="#222" stroke-width="0.7" />
<line x1="315.90" y1="115.33" x2="318.90" y2="115.33" stroke="#222" stroke-width="0.7" />
<line x1="315.90" y1="127.84" x2="318.90" y2="127.84" stroke="#222" stroke-width="0.7" />
<circle cx="317.2" cy="116.8" r="0.55" fill="#222"/>
<circle cx="318.0" cy="126.6" r="0.55" fill="#222"/>
<circle cx="317.9" cy="117.0" r="0.55" fill="#222"/>
<line x1="314.40" y1="161.20" x2="314.40" y2="166.40" stroke="#000" stroke-width="1.2" />
<text x="321.10" y="172.70" font-size="11" text-anchor="end" transform="rotate(-45 321.10 172.70)">sh<tspan font-style="italic">SNORD11B</tspan></text>
<rect x="326.30" y="101.78" width="5.50" height="59.42" fill="#5b5bf6" stroke="#333" stroke-width="0.6" />
<line x1="329.05" y1="98.23" x2="329.05" y2="105.32" stroke="#222" stroke-width="0.7" />
<line x1="327.55" y1="98.23" x2="330.55" y2="98.23" stroke="#222" stroke-width="0.7" />
<line x1="327.55" y1="105.32" x2="330.55" y2="105.32" stroke="#222" stroke-width="0.7" />
<circle cx="329.5" cy="104.1" r="0.55" fill="#222"/>
<circle cx="329.6" cy="100.9" r="0.55" fill="#222"/>
<circle cx="328.3" cy="104.9" r="0.55" fill="#222"/>
<rect x="332.90" y="111.79" width="5.70" height="49.41" fill="#ff1e0a" stroke="#333" stroke-width="0.6" />
<line x1="335.75" y1="109.28" x2="335.75" y2="114.29" stroke="#222" stroke-width="0.7" />
<line x1="334.25" y1="109.28" x2="337.25" y2="109.28" stroke="#222" stroke-width="0.7" />
<line x1="334.25" y1="114.29" x2="337.25" y2="114.29" stroke="#222" stroke-width="0.7" />
<circle cx="336.5" cy="111.1" r="0.55" fill="#222"/>
<circle cx="335.4" cy="113.6" r="0.55" fill="#222"/>
<circle cx="335.2" cy="113.0" r="0.55" fill="#222"/>
<line x1="332.80" y1="161.20" x2="332.80" y2="166.40" stroke="#000" stroke-width="1.2" />
<text x="339.50" y="172.70" font-size="11" text-anchor="end" transform="rotate(-45 339.50 172.70)">sh<tspan font-style="italic">SNORD36C</tspan></text>
<rect x="344.70" y="113.24" width="5.50" height="47.95" fill="#5b5bf6" stroke="#333" stroke-width="0.6" />
<line x1="347.45" y1="107.41" x2="347.45" y2="119.08" stroke="#222" stroke-width="0.7" />
<line x1="345.95" y1="107.41" x2="348.95" y2="107.41" stroke="#222" stroke-width="0.7" />
<line x1="345.95" y1="119.08" x2="348.95" y2="119.08" stroke="#222" stroke-width="0.7" />
<circle cx="347.9" cy="114.9" r="0.55" fill="#222"/>
<circle cx="346.9" cy="109.0" r="0.55" fill="#222"/>
<circle cx="347.9" cy="116.7" r="0.55" fill="#222"/>
<rect x="351.20" y="104.28" width="5.50" height="56.92" fill="#ff1e0a" stroke="#333" stroke-width="0.6" />
<line x1="353.95" y1="100.53" x2="353.95" y2="108.03" stroke="#222" stroke-width="0.7" />
<line x1="352.45" y1="100.53" x2="355.45" y2="100.53" stroke="#222" stroke-width="0.7" />
<line x1="352.45" y1="108.03" x2="355.45" y2="108.03" stroke="#222" stroke-width="0.7" />
<circle cx="354.6" cy="103.5" r="0.55" fill="#222"/>
<circle cx="354.4" cy="103.1" r="0.55" fill="#222"/>
<circle cx="354.6" cy="102.3" r="0.55" fill="#222"/>
<line x1="351.00" y1="161.20" x2="351.00" y2="166.40" stroke="#000" stroke-width="1.2" />
<text x="357.70" y="172.70" font-size="11" text-anchor="end" transform="rotate(-45 357.70 172.70)">sh<tspan font-style="italic">SNORA84</tspan></text>
<rect x="380.80" y="101.78" width="5.60" height="59.42" fill="#d9d9d9" stroke="#333" stroke-width="0.6" />
<line x1="383.60" y1="97.61" x2="383.60" y2="105.95" stroke="#222" stroke-width="0.7" />
<line x1="382.10" y1="97.61" x2="385.10" y2="97.61" stroke="#222" stroke-width="0.7" />
<line x1="382.10" y1="105.95" x2="385.10" y2="105.95" stroke="#222" stroke-width="0.7" />
<circle cx="384.1" cy="104.0" r="0.55" fill="#222"/>
<circle cx="383.9" cy="101.5" r="0.55" fill="#222"/>
<circle cx="384.0" cy="102.2" r="0.55" fill="#222"/>
<line x1="386.50" y1="161.20" x2="386.50" y2="166.40" stroke="#000" stroke-width="1.2" />
<text x="393.20" y="172.70" font-size="11" text-anchor="end" transform="rotate(-45 393.20 172.70)">shScramble</text>
<rect x="398.40" y="56.53" width="5.60" height="104.67" fill="#5b5bf6" stroke="#333" stroke-width="0.6" />
<line x1="401.20" y1="51.95" x2="401.20" y2="61.12" stroke="#222" stroke-width="0.7" />
<line x1="399.70" y1="51.95" x2="402.70" y2="51.95" stroke="#222" stroke-width="0.7" />
<line x1="399.70" y1="61.12" x2="402.70" y2="61.12" stroke="#222" stroke-width="0.7" />
<circle cx="401.8" cy="56.1" r="0.55" fill="#222"/>
<circle cx="400.8" cy="58.7" r="0.55" fill="#222"/>
<circle cx="400.6" cy="56.6" r="0.55" fill="#222"/>
<rect x="404.90" y="59.03" width="5.60" height="102.17" fill="#ff1e0a" stroke="#333" stroke-width="0.6" />
<line x1="407.70" y1="53.82" x2="407.70" y2="64.25" stroke="#222" stroke-width="0.7" />
<line x1="406.20" y1="53.82" x2="409.20" y2="53.82" stroke="#222" stroke-width="0.7" />
<line x1="406.20" y1="64.25" x2="409.20" y2="64.25" stroke="#222" stroke-width="0.7" />
<circle cx="407.0" cy="59.3" r="0.55" fill="#222"/>
<circle cx="407.1" cy="59.1" r="0.55" fill="#222"/>
<circle cx="407.7" cy="58.7" r="0.55" fill="#222"/>
<line x1="404.50" y1="161.20" x2="404.50" y2="166.40" stroke="#000" stroke-width="1.2" />
<text x="411.20" y="172.70" font-size="11" text-anchor="end" transform="rotate(-45 411.20 172.70)">sh<tspan font-style="italic">SNORA49</tspan></text>
<rect x="416.70" y="96.56" width="5.60" height="64.64" fill="#5b5bf6" stroke="#333" stroke-width="0.6" />
<line x1="419.50" y1="88.22" x2="419.50" y2="104.90" stroke="#222" stroke-width="0.7" />
<line x1="418.00" y1="88.22" x2="421.00" y2="88.22" stroke="#222" stroke-width="0.7" />
<line x1="418.00" y1="104.90" x2="421.00" y2="104.90" stroke="#222" stroke-width="0.7" />
<circle cx="420.1" cy="104.0" r="0.55" fill="#222"/>
<circle cx="420.0" cy="97.0" r="0.55" fill="#222"/>
<circle cx="419.6" cy="94.1" r="0.55" fill="#222"/>
<rect x="423.20" y="103.86" width="5.70" height="57.34" fill="#ff1e0a" stroke="#333" stroke-width="0.6" />
<line x1="426.05" y1="97.61" x2="426.05" y2="110.12" stroke="#222" stroke-width="0.7" />
<line x1="424.55" y1="97.61" x2="427.55" y2="97.61" stroke="#222" stroke-width="0.7" />
<line x1="424.55" y1="110.12" x2="427.55" y2="110.12" stroke="#222" stroke-width="0.7" />
<circle cx="426.6" cy="105.3" r="0.55" fill="#222"/>
<circle cx="425.9" cy="98.7" r="0.55" fill="#222"/>
<circle cx="425.4" cy="102.3" r="0.55" fill="#222"/>
<line x1="422.80" y1="161.20" x2="422.80" y2="166.40" stroke="#000" stroke-width="1.2" />
<text x="429.50" y="172.70" font-size="11" text-anchor="end" transform="rotate(-45 429.50 172.70)">sh<tspan font-style="italic">SNORD95</tspan></text>
<rect x="434.80" y="109.07" width="5.60" height="52.12" fill="#5b5bf6" stroke="#333" stroke-width="0.6" />
<line x1="437.60" y1="105.53" x2="437.60" y2="112.62" stroke="#222" stroke-width="0.7" />
<line x1="436.10" y1="105.53" x2="439.10" y2="105.53" stroke="#222" stroke-width="0.7" />
<line x1="436.10" y1="112.62" x2="439.10" y2="112.62" stroke="#222" stroke-width="0.7" />
<circle cx="437.8" cy="112.1" r="0.55" fill="#222"/>
<circle cx="437.8" cy="107.9" r="0.55" fill="#222"/>
<circle cx="438.3" cy="110.2" r="0.55" fill="#222"/>
<rect x="441.30" y="113.24" width="5.60" height="47.95" fill="#ff1e0a" stroke="#333" stroke-width="0.6" />
<line x1="444.10" y1="109.07" x2="444.10" y2="117.41" stroke="#222" stroke-width="0.7" />
<line x1="442.60" y1="109.07" x2="445.60" y2="109.07" stroke="#222" stroke-width="0.7" />
<line x1="442.60" y1="117.41" x2="445.60" y2="117.41" stroke="#222" stroke-width="0.7" />
<circle cx="444.9" cy="113.2" r="0.55" fill="#222"/>
<circle cx="444.1" cy="110.3" r="0.55" fill="#222"/>
<circle cx="443.4" cy="111.6" r="0.55" fill="#222"/>
<line x1="440.90" y1="161.20" x2="440.90" y2="166.40" stroke="#000" stroke-width="1.2" />
<text x="447.60" y="172.70" font-size="11" text-anchor="end" transform="rotate(-45 447.60 172.70)">sh<tspan font-style="italic">SNORD11B</tspan></text>
<rect x="453.10" y="90.31" width="5.50" height="70.89" fill="#5b5bf6" stroke="#333" stroke-width="0.6" />
<line x1="455.85" y1="87.81" x2="455.85" y2="92.81" stroke="#222" stroke-width="0.7" />
<line x1="454.35" y1="87.81" x2="457.35" y2="87.81" stroke="#222" stroke-width="0.7" />
<line x1="454.35" y1="92.81" x2="457.35" y2="92.81" stroke="#222" stroke-width="0.7" />
<circle cx="456.1" cy="91.0" r="0.55" fill="#222"/>
<circle cx="456.4" cy="90.9" r="0.55" fill="#222"/>
<circle cx="455.8" cy="90.2" r="0.55" fill="#222"/>
<rect x="459.60" y="92.81" width="5.50" height="68.39" fill="#ff1e0a" stroke="#333" stroke-width="0.6" />
<line x1="462.35" y1="87.60" x2="462.35" y2="98.02" stroke="#222" stroke-width="0.7" />
<line x1="460.85" y1="87.60" x2="463.85" y2="87.60" stroke="#222" stroke-width="0.7" />
<line x1="460.85" y1="98.02" x2="463.85" y2="98.02" stroke="#222" stroke-width="0.7" />
<circle cx="462.8" cy="95.5" r="0.55" fill="#222"/>
<circle cx="462.2" cy="93.5" r="0.55" fill="#222"/>
<circle cx="462.4" cy="89.7" r="0.55" fill="#222"/>
<line x1="459.20" y1="161.20" x2="459.20" y2="166.40" stroke="#000" stroke-width="1.2" />
<text x="465.90" y="172.70" font-size="11" text-anchor="end" transform="rotate(-45 465.90 172.70)">sh<tspan font-style="italic">SNORD36C</tspan></text>
<rect x="471.10" y="102.82" width="5.50" height="58.38" fill="#5b5bf6" stroke="#333" stroke-width="0.6" />
<line x1="473.85" y1="98.65" x2="473.85" y2="106.99" stroke="#222" stroke-width="0.7" />
<line x1="472.35" y1="98.65" x2="475.35" y2="98.65" stroke="#222" stroke-width="0.7" />
<line x1="472.35" y1="106.99" x2="475.35" y2="106.99" stroke="#222" stroke-width="0.7" />
<circle cx="473.5" cy="100.4" r="0.55" fill="#222"/>
<circle cx="473.7" cy="102.8" r="0.55" fill="#222"/>
<circle cx="473.5" cy="102.8" r="0.55" fill="#222"/>
<rect x="477.60" y="100.73" width="5.50" height="60.47" fill="#ff1e0a" stroke="#333" stroke-width="0.6" />
<line x1="480.35" y1="96.15" x2="480.35" y2="105.32" stroke="#222" stroke-width="0.7" />
<line x1="478.85" y1="96.15" x2="481.85" y2="96.15" stroke="#222" stroke-width="0.7" />
<line x1="478.85" y1="105.32" x2="481.85" y2="105.32" stroke="#222" stroke-width="0.7" />
<circle cx="481.1" cy="99.5" r="0.55" fill="#222"/>
<circle cx="480.8" cy="102.1" r="0.55" fill="#222"/>
<circle cx="480.1" cy="102.4" r="0.55" fill="#222"/>
<line x1="477.20" y1="161.20" x2="477.20" y2="166.40" stroke="#000" stroke-width="1.2" />
<text x="483.90" y="172.70" font-size="11" text-anchor="end" transform="rotate(-45 483.90 172.70)">sh<tspan font-style="italic">SNORA84</tspan></text>
<line x1="369.30" y1="161.20" x2="369.30" y2="166.40" stroke="#000" stroke-width="1.2" />
<line x1="251.30" y1="35.30" x2="251.30" y2="161.80" stroke="#000" stroke-width="1.2" />
<line x1="246.30" y1="161.20" x2="486.00" y2="161.20" stroke="#000" stroke-width="1.2" />
<line x1="246.30" y1="36.10" x2="251.30" y2="36.10" stroke="#000" stroke-width="1.2" />
<line x1="246.30" y1="77.80" x2="251.30" y2="77.80" stroke="#000" stroke-width="1.2" />
<line x1="246.30" y1="119.50" x2="251.30" y2="119.50" stroke="#000" stroke-width="1.2" />
<text x="244.60" y="40.00" font-size="10.8" text-anchor="end">6</text>
<text x="244.60" y="81.70" font-size="10.8" text-anchor="end">4</text>
<text x="244.60" y="123.40" font-size="10.8" text-anchor="end">2</text>
<text x="244.60" y="165.10" font-size="10.8" text-anchor="end">0</text>
<text x="232.00" y="95.80" font-size="11.7" text-anchor="middle" transform="rotate(-90 232.00 95.80)">Sphere-initiating cells (%)</text>
<rect x="278.70" y="24.10" width="12.30" height="3.60" fill="#5b5bf6" stroke="#444" stroke-width="0.4" />
<text x="295.20" y="29.70" font-size="11">sh#1</text>
<rect x="331.00" y="24.10" width="12.30" height="3.60" fill="#ff1e0a" stroke="#444" stroke-width="0.4" />
<text x="347.70" y="29.70" font-size="11">sh#2</text>
<text x="303.40" y="67.40" font-size="11">HCC#1</text>
<text x="437.50" y="66.80" font-size="11">HCC#2</text>
<line x1="256.80" y1="46.60" x2="280.90" y2="46.60" stroke="#222" stroke-width="0.8" />
<text x="269.00" y="45.90" font-size="10" text-anchor="middle" font-weight="bold">***</text>
<line x1="256.80" y1="57.20" x2="272.70" y2="57.20" stroke="#222" stroke-width="0.8" />
<text x="264.70" y="56.50" font-size="10" text-anchor="middle" font-weight="bold">***</text>
<line x1="380.70" y1="34.40" x2="405.20" y2="34.40" stroke="#222" stroke-width="0.8" />
<text x="393.30" y="33.40" font-size="10" text-anchor="middle" font-weight="bold">***</text>
<line x1="380.70" y1="45.40" x2="397.40" y2="45.40" stroke="#222" stroke-width="0.8" />
<text x="389.20" y="44.50" font-size="10" text-anchor="middle" font-weight="bold">***</text>
<text x="496.90" y="13.30" font-size="17.4" font-weight="bold">C</text>
<text x="515.00" y="60.80" font-size="11.5">Human Chr.12</text>
<text x="600.40" y="60.80" font-size="11.5"><tspan font-style="italic">EP400</tspan> locus</text>
<text x="504.70" y="85.00" font-size="11.5">|131,949,942</text>
<text x="678.60" y="85.00" font-size="11.5" text-anchor="end">132,080,460|</text>
<text x="508.00" y="104.60" font-size="11.5">E1</text>
<text x="536.00" y="105.40" font-size="11.5">E2</text>
<text x="579.60" y="104.60" font-size="11.5">E28</text>
<text x="617.00" y="104.60" font-size="11.5">E29</text>
<text x="657.30" y="104.60" font-size="11.5">E52</text>
<line x1="505.30" y1="121.70" x2="547.70" y2="121.70" stroke="#000" stroke-width="1.1" />
<line x1="552.40" y1="121.70" x2="569.90" y2="121.70" stroke="#000" stroke-width="1.2" stroke-dasharray="4.6 1.85"/>
<line x1="574.60" y1="121.70" x2="639.20" y2="121.70" stroke="#000" stroke-width="1.1" />
<line x1="642.00" y1="121.70" x2="658.80" y2="121.70" stroke="#000" stroke-width="1.2" stroke-dasharray="4.4 1.8"/>
<line x1="661.00" y1="121.70" x2="675.00" y2="121.70" stroke="#000" stroke-width="1.1" />
<rect x="508.90" y="118.80" width="11.90" height="5.80" fill="#d9d9d9" stroke="#111" stroke-width="0.8" />
<rect x="535.80" y="118.80" width="10.50" height="5.80" fill="#d9d9d9" stroke="#111" stroke-width="0.8" />
<rect x="582.70" y="118.80" width="10.20" height="5.80" fill="#d9d9d9" stroke="#111" stroke-width="0.8" />
<rect x="620.40" y="118.80" width="10.00" height="5.80" fill="#d9d9d9" stroke="#111" stroke-width="0.8" />
<rect x="661.40" y="118.80" width="11.10" height="5.80" fill="#d9d9d9" stroke="#111" stroke-width="0.8" />
<rect x="601.20" y="119.60" width="9.50" height="4.20" fill="#ff1e0a" />
<rect x="601.20" y="141.40" width="9.50" height="4.10" fill="#ff1e0a" />
<line x1="508.90" y1="143.50" x2="517.00" y2="143.50" stroke="#000" stroke-width="1.0" />
<path d="M515.4 141.1 L519.8 143.5 L515.4 145.9 L516.4 143.5 Z" fill="#000"/>
<text x="617.90" y="147.80" font-size="11.5" font-style="italic">SNORA49</text>
<text x="628.00" y="163.00" font-size="11.5">(137nt)</text>
<text x="-0.30" y="247.60" font-size="17.4" font-weight="bold">D</text>
<rect x="59.60" y="309.20" width="9.20" height="94.70" fill="#d9d9d9" stroke="#333" stroke-width="0.7" />
<line x1="64.20" y1="298.31" x2="64.20" y2="320.09" stroke="#222" stroke-width="0.7" />
<line x1="62.40" y1="298.31" x2="66.00" y2="298.31" stroke="#222" stroke-width="0.7" />
<line x1="62.40" y1="320.09" x2="66.00" y2="320.09" stroke="#222" stroke-width="0.7" />
<circle cx="64.3" cy="306.6" r="0.55" fill="#222"/>
<circle cx="64.5" cy="318.2" r="0.55" fill="#222"/>
<circle cx="64.4" cy="301.6" r="0.55" fill="#222"/>
<rect x="90.30" y="309.20" width="9.20" height="94.70" fill="#d9d9d9" stroke="#333" stroke-width="0.7" />
<line x1="94.90" y1="291.59" x2="94.90" y2="326.81" stroke="#222" stroke-width="0.7" />
<line x1="93.10" y1="291.59" x2="96.70" y2="291.59" stroke="#222" stroke-width="0.7" />
<line x1="93.10" y1="326.81" x2="96.70" y2="326.81" stroke="#222" stroke-width="0.7" />
<circle cx="94.9" cy="323.5" r="0.55" fill="#222"/>
<circle cx="94.7" cy="324.9" r="0.55" fill="#222"/>
<circle cx="94.6" cy="295.8" r="0.55" fill="#222"/>
<rect x="121.40" y="309.20" width="9.20" height="94.70" fill="#d9d9d9" stroke="#333" stroke-width="0.7" />
<line x1="126.00" y1="296.89" x2="126.00" y2="321.51" stroke="#222" stroke-width="0.7" />
<line x1="124.20" y1="296.89" x2="127.80" y2="296.89" stroke="#222" stroke-width="0.7" />
<line x1="124.20" y1="321.51" x2="127.80" y2="321.51" stroke="#222" stroke-width="0.7" />
<circle cx="126.1" cy="305.7" r="0.55" fill="#222"/>
<circle cx="126.3" cy="300.1" r="0.55" fill="#222"/>
<circle cx="126.1" cy="306.6" r="0.55" fill="#222"/>
<rect x="152.60" y="309.20" width="9.20" height="94.70" fill="#d9d9d9" stroke="#333" stroke-width="0.7" />
<line x1="157.20" y1="299.73" x2="157.20" y2="318.67" stroke="#222" stroke-width="0.7" />
<line x1="155.40" y1="299.73" x2="159.00" y2="299.73" stroke="#222" stroke-width="0.7" />
<line x1="155.40" y1="318.67" x2="159.00" y2="318.67" stroke="#222" stroke-width="0.7" />
<circle cx="157.3" cy="305.9" r="0.55" fill="#222"/>
<circle cx="157.3" cy="306.1" r="0.55" fill="#222"/>
<circle cx="156.9" cy="306.4" r="0.55" fill="#222"/>
<rect x="183.40" y="309.20" width="9.40" height="94.70" fill="#d9d9d9" stroke="#333" stroke-width="0.7" />
<line x1="188.10" y1="294.05" x2="188.10" y2="324.35" stroke="#222" stroke-width="0.7" />
<line x1="186.30" y1="294.05" x2="189.90" y2="294.05" stroke="#222" stroke-width="0.7" />
<line x1="186.30" y1="324.35" x2="189.90" y2="324.35" stroke="#222" stroke-width="0.7" />
<circle cx="188.1" cy="302.0" r="0.55" fill="#222"/>
<circle cx="187.7" cy="317.9" r="0.55" fill="#222"/>
<circle cx="187.6" cy="301.7" r="0.55" fill="#222"/>
<rect x="70.20" y="382.78" width="9.20" height="21.12" fill="#5b5bf6" stroke="#222" stroke-width="0.7" />
<line x1="74.80" y1="371.89" x2="74.80" y2="393.67" stroke="#222" stroke-width="0.7" />
<line x1="73.00" y1="371.89" x2="76.60" y2="371.89" stroke="#222" stroke-width="0.7" />
<line x1="73.00" y1="393.67" x2="76.60" y2="393.67" stroke="#222" stroke-width="0.7" />
<circle cx="75.2" cy="379.7" r="0.55" fill="#222"/>
<circle cx="74.7" cy="376.5" r="0.55" fill="#222"/>
<circle cx="75.1" cy="381.6" r="0.55" fill="#222"/>
<rect x="101.00" y="384.96" width="9.20" height="18.94" fill="#5b5bf6" stroke="#222" stroke-width="0.7" />
<line x1="105.60" y1="378.80" x2="105.60" y2="391.12" stroke="#222" stroke-width="0.7" />
<line x1="103.80" y1="378.80" x2="107.40" y2="378.80" stroke="#222" stroke-width="0.7" />
<line x1="103.80" y1="391.12" x2="107.40" y2="391.12" stroke="#222" stroke-width="0.7" />
<circle cx="105.4" cy="387.2" r="0.55" fill="#222"/>
<circle cx="105.5" cy="387.0" r="0.55" fill="#222"/>
<circle cx="105.5" cy="383.4" r="0.55" fill="#222"/>
<rect x="132.00" y="394.05" width="9.30" height="9.85" fill="#5b5bf6" stroke="#222" stroke-width="0.7" />
<line x1="136.65" y1="391.21" x2="136.65" y2="396.89" stroke="#222" stroke-width="0.7" />
<line x1="134.85" y1="391.21" x2="138.45" y2="391.21" stroke="#222" stroke-width="0.7" />
<line x1="134.85" y1="396.89" x2="138.45" y2="396.89" stroke="#222" stroke-width="0.7" />
<circle cx="137.1" cy="396.3" r="0.55" fill="#222"/>
<circle cx="136.7" cy="396.4" r="0.55" fill="#222"/>
<circle cx="136.3" cy="392.5" r="0.55" fill="#222"/>
<rect x="163.20" y="394.81" width="9.20" height="9.09" fill="#5b5bf6" stroke="#222" stroke-width="0.7" />
<line x1="167.80" y1="390.55" x2="167.80" y2="399.07" stroke="#222" stroke-width="0.7" />
<line x1="166.00" y1="390.55" x2="169.60" y2="390.55" stroke="#222" stroke-width="0.7" />
<line x1="166.00" y1="399.07" x2="169.60" y2="399.07" stroke="#222" stroke-width="0.7" />
<circle cx="167.9" cy="391.6" r="0.55" fill="#222"/>
<circle cx="167.7" cy="398.5" r="0.55" fill="#222"/>
<circle cx="167.7" cy="394.1" r="0.55" fill="#222"/>
<rect x="194.00" y="357.50" width="9.20" height="46.40" fill="#5b5bf6" stroke="#222" stroke-width="0.7" />
<line x1="198.60" y1="346.61" x2="198.60" y2="368.39" stroke="#222" stroke-width="0.7" />
<line x1="196.80" y1="346.61" x2="200.40" y2="346.61" stroke="#222" stroke-width="0.7" />
<line x1="196.80" y1="368.39" x2="200.40" y2="368.39" stroke="#222" stroke-width="0.7" />
<circle cx="199.0" cy="348.1" r="0.55" fill="#222"/>
<circle cx="198.6" cy="359.2" r="0.55" fill="#222"/>
<circle cx="198.2" cy="354.7" r="0.55" fill="#222"/>
<line x1="55.00" y1="261.50" x2="55.00" y2="404.50" stroke="#000" stroke-width="1.2" />
<line x1="49.50" y1="403.90" x2="209.00" y2="403.90" stroke="#000" stroke-width="1.2" />
<line x1="49.50" y1="261.85" x2="55.00" y2="261.85" stroke="#000" stroke-width="1.2" />
<line x1="49.50" y1="309.20" x2="55.00" y2="309.20" stroke="#000" stroke-width="1.2" />
<line x1="49.50" y1="356.55" x2="55.00" y2="356.55" stroke="#000" stroke-width="1.2" />
<text x="46.30" y="265.75" font-size="11" text-anchor="end">1.5</text>
<text x="46.30" y="313.10" font-size="11" text-anchor="end">1.0</text>
<text x="46.30" y="360.45" font-size="11" text-anchor="end">0.5</text>
<text x="46.30" y="402.80" font-size="11" text-anchor="end">0</text>
<text x="11.40" y="330.60" font-size="11.4" text-anchor="middle" transform="rotate(-90 11.40 330.60)"><tspan font-style="italic">SNORA49</tspan> expression</text>
<text x="21.40" y="327.00" font-size="11.8" text-anchor="middle" transform="rotate(-90 21.40 327.00)">(Fold change)</text>
<rect x="75.00" y="258.70" width="10.40" height="6.70" fill="#d9d9d9" stroke="#333" stroke-width="0.7" />
<text x="89.90" y="265.30" font-size="11.6">Peri-tumor</text>
<rect x="157.50" y="258.70" width="9.80" height="6.70" fill="#5b5bf6" stroke="#222" stroke-width="0.7" />
<text x="171.50" y="265.30" font-size="11.6">Tumor</text>
<line x1="63.60" y1="289.10" x2="75.90" y2="289.10" stroke="#222" stroke-width="0.8" />
<text x="69.75" y="288.50" font-size="10" text-anchor="middle" font-weight="bold">***</text>
<line x1="95.80" y1="286.20" x2="108.20" y2="286.20" stroke="#222" stroke-width="0.8" />
<text x="102.00" y="285.60" font-size="10" text-anchor="middle" font-weight="bold">**</text>
<line x1="126.40" y1="287.70" x2="139.30" y2="287.70" stroke="#222" stroke-width="0.8" />
<text x="132.85" y="287.10" font-size="10" text-anchor="middle" font-weight="bold">***</text>
<line x1="158.60" y1="289.60" x2="171.50" y2="289.60" stroke="#222" stroke-width="0.8" />
<text x="165.05" y="289.00" font-size="10" text-anchor="middle" font-weight="bold">***</text>
<line x1="189.80" y1="287.70" x2="202.30" y2="287.70" stroke="#222" stroke-width="0.8" />
<text x="196.05" y="287.10" font-size="10" text-anchor="middle" font-weight="bold">*</text>
<line x1="69.50" y1="403.90" x2="69.50" y2="409.50" stroke="#000" stroke-width="1.2" />
<text x="70.40" y="422.30" font-size="10.9" text-anchor="middle" stroke="#000" stroke-width="0.2">#1</text>
<line x1="64.70" y1="423.30" x2="76.10" y2="423.30" stroke="#222" stroke-width="0.5" />
<line x1="64.10" y1="426.00" x2="76.50" y2="426.00" stroke="#222" stroke-width="0.9" />
<line x1="100.25" y1="403.90" x2="100.25" y2="409.50" stroke="#000" stroke-width="1.2" />
<text x="101.15" y="422.30" font-size="10.9" text-anchor="middle" stroke="#000" stroke-width="0.2">#2</text>
<line x1="95.45" y1="423.30" x2="106.85" y2="423.30" stroke="#222" stroke-width="0.5" />
<line x1="94.85" y1="426.00" x2="107.25" y2="426.00" stroke="#222" stroke-width="0.9" />
<line x1="131.30" y1="403.90" x2="131.30" y2="409.50" stroke="#000" stroke-width="1.2" />
<text x="132.20" y="422.30" font-size="10.9" text-anchor="middle" stroke="#000" stroke-width="0.2">#3</text>
<line x1="126.50" y1="423.30" x2="137.90" y2="423.30" stroke="#222" stroke-width="0.5" />
<line x1="125.90" y1="426.00" x2="138.30" y2="426.00" stroke="#222" stroke-width="0.9" />
<line x1="162.50" y1="403.90" x2="162.50" y2="409.50" stroke="#000" stroke-width="1.2" />
<text x="163.40" y="422.30" font-size="10.9" text-anchor="middle" stroke="#000" stroke-width="0.2">#4</text>
<line x1="157.70" y1="423.30" x2="169.10" y2="423.30" stroke="#222" stroke-width="0.5" />
<line x1="157.10" y1="426.00" x2="169.50" y2="426.00" stroke="#222" stroke-width="0.9" />
<line x1="193.40" y1="403.90" x2="193.40" y2="409.50" stroke="#000" stroke-width="1.2" />
<text x="194.30" y="422.30" font-size="10.9" text-anchor="middle" stroke="#000" stroke-width="0.2">#5</text>
<line x1="188.60" y1="423.30" x2="200.00" y2="423.30" stroke="#222" stroke-width="0.5" />
<line x1="188.00" y1="426.00" x2="200.40" y2="426.00" stroke="#222" stroke-width="0.9" />
<text x="31.30" y="437.10" font-size="9.5">nt</text>
<text x="61.70" y="439.10" font-size="11" text-anchor="middle">P</text>
<text x="75.00" y="439.10" font-size="11" text-anchor="middle">T</text>
<text x="93.10" y="439.10" font-size="11" text-anchor="middle">P</text>
<text x="106.20" y="439.10" font-size="11" text-anchor="middle">T</text>
<text x="124.30" y="439.10" font-size="11" text-anchor="middle">P</text>
<text x="136.00" y="439.10" font-size="11" text-anchor="middle">T</text>
<text x="153.80" y="439.10" font-size="11" text-anchor="middle">P</text>
<text x="167.50" y="439.10" font-size="11" text-anchor="middle">T</text>
<text x="182.10" y="439.10" font-size="11" text-anchor="middle">P</text>
<text x="196.10" y="439.10" font-size="11" text-anchor="middle">T</text>
<clipPath id="cd1"><rect x="48.8" y="441.6" width="160.5" height="25.4"/></clipPath>
<clipPath id="cd2"><rect x="48.8" y="474.9" width="160.5" height="25.2"/></clipPath>
<rect x="48.80" y="441.60" width="160.50" height="25.40" fill="#f1f1f1" />
<g clip-path="url(#cd1)">
<rect x="56.6" y="453.3" width="10.4" height="4.6" rx="2.3" fill="#000" opacity="0.85" filter="url(#b1)"/>
<rect x="57.6" y="454.2" width="8.3" height="2.8" rx="1.4" fill="#000" opacity="0.85" filter="url(#b05)"/>
<rect x="73.6" y="453.6" width="8.6" height="2.4" rx="1.2" fill="#000" opacity="0.50" filter="url(#b1)"/>
<rect x="86.8" y="452.8" width="11.0" height="5.2" rx="2.6" fill="#000" opacity="0.90" filter="url(#b1)"/>
<rect x="87.9" y="453.8" width="8.8" height="3.1" rx="1.6" fill="#000" opacity="0.85" filter="url(#b05)"/>
<rect x="101.4" y="452.9" width="8.8" height="2.8" rx="1.4" fill="#000" opacity="0.63" filter="url(#b1)"/>
<rect x="114.9" y="451.9" width="12.0" height="5.8" rx="2.9" fill="#000" opacity="0.90" filter="url(#b1)"/>
<rect x="116.1" y="453.1" width="9.6" height="3.5" rx="1.7" fill="#000" opacity="0.85" filter="url(#b05)"/>
<rect x="130.5" y="453.1" width="8.4" height="2.2" rx="1.1" fill="#000" opacity="0.45" filter="url(#b1)"/>
<rect x="143.6" y="451.6" width="11.2" height="4.4" rx="2.2" fill="#000" opacity="0.85" filter="url(#b1)"/>
<rect x="144.7" y="452.5" width="9.0" height="2.6" rx="1.3" fill="#000" opacity="0.85" filter="url(#b05)"/>
<rect x="159.6" y="453.1" width="8.0" height="2.4" rx="1.2" fill="#000" opacity="0.50" filter="url(#b1)"/>
<rect x="174.3" y="451.4" width="12.0" height="6.0" rx="3.0" fill="#000" opacity="0.90" filter="url(#b1)"/>
<rect x="175.5" y="452.6" width="9.6" height="3.6" rx="1.8" fill="#000" opacity="0.85" filter="url(#b05)"/>
<rect x="189.4" y="452.6" width="10.8" height="4.0" rx="2.0" fill="#000" opacity="0.85" filter="url(#b1)"/>
<rect x="190.5" y="453.4" width="8.6" height="2.4" rx="1.2" fill="#000" opacity="0.85" filter="url(#b05)"/>
<ellipse cx="120.9" cy="461" rx="3.5" ry="4" fill="#000" opacity="0.12" filter="url(#b2)"/>
<ellipse cx="180.3" cy="461" rx="3.5" ry="4" fill="#000" opacity="0.12" filter="url(#b2)"/>
</g>
<rect x="48.80" y="441.60" width="160.50" height="25.40" fill="none" stroke="#111" stroke-width="0.9" />
<rect x="48.80" y="474.90" width="160.50" height="25.20" fill="#f1f1f1" />
<g clip-path="url(#cd2)">
<rect x="55" y="483.6" width="146" height="8.6" rx="4" fill="#000" opacity="0.55" filter="url(#b2)"/>
<ellipse cx="61.8" cy="487.8" rx="8" ry="5.6" fill="#000" opacity="0.8" filter="url(#b2)"/>
<ellipse cx="61.8" cy="487.8" rx="6.4" ry="3.9" fill="#000" opacity="0.9" filter="url(#b1)"/>
<ellipse cx="77.9" cy="488" rx="7.6" ry="5.2" fill="#000" opacity="0.8" filter="url(#b2)"/>
<ellipse cx="77.9" cy="488" rx="6.1" ry="3.6" fill="#000" opacity="0.9" filter="url(#b1)"/>
<ellipse cx="91.5" cy="487.2" rx="8" ry="5.8" fill="#000" opacity="0.8" filter="url(#b2)"/>
<ellipse cx="91.5" cy="487.2" rx="6.4" ry="4.1" fill="#000" opacity="0.9" filter="url(#b1)"/>
<ellipse cx="105.8" cy="488" rx="7.6" ry="5.4" fill="#000" opacity="0.8" filter="url(#b2)"/>
<ellipse cx="105.8" cy="488" rx="6.1" ry="3.8" fill="#000" opacity="0.9" filter="url(#b1)"/>
<ellipse cx="120.5" cy="488" rx="7" ry="4.6" fill="#000" opacity="0.8" filter="url(#b2)"/>
<ellipse cx="120.5" cy="488" rx="5.6" ry="3.2" fill="#000" opacity="0.9" filter="url(#b1)"/>
<ellipse cx="136" cy="488" rx="7.4" ry="5" fill="#000" opacity="0.8" filter="url(#b2)"/>
<ellipse cx="136" cy="488" rx="5.9" ry="3.5" fill="#000" opacity="0.9" filter="url(#b1)"/>
<ellipse cx="150.5" cy="488" rx="7.4" ry="5.2" fill="#000" opacity="0.8" filter="url(#b2)"/>
<ellipse cx="150.5" cy="488" rx="5.9" ry="3.6" fill="#000" opacity="0.9" filter="url(#b1)"/>
<ellipse cx="165" cy="487.6" rx="7.6" ry="5.4" fill="#000" opacity="0.8" filter="url(#b2)"/>
<ellipse cx="165" cy="487.6" rx="6.1" ry="3.8" fill="#000" opacity="0.9" filter="url(#b1)"/>
<ellipse cx="180.3" cy="488" rx="7.6" ry="5.6" fill="#000" opacity="0.8" filter="url(#b2)"/>
<ellipse cx="180.3" cy="488" rx="6.1" ry="3.9" fill="#000" opacity="0.9" filter="url(#b1)"/>
<ellipse cx="195.5" cy="490" rx="7.2" ry="6.2" fill="#000" opacity="0.8" filter="url(#b2)"/>
<ellipse cx="195.5" cy="490" rx="5.8" ry="4.3" fill="#000" opacity="0.9" filter="url(#b1)"/>
</g>
<rect x="48.80" y="474.90" width="160.50" height="25.20" fill="none" stroke="#111" stroke-width="0.9" />
<text x="40.10" y="450.60" font-size="9.8" text-anchor="end">150</text>
<text x="40.10" y="483.70" font-size="9.8" text-anchor="end">2000</text>
<line x1="41.30" y1="447.30" x2="46.00" y2="447.30" stroke="#000" stroke-width="0.9" />
<line x1="41.30" y1="480.00" x2="46.00" y2="480.00" stroke="#000" stroke-width="0.9" />
<text x="211.80" y="458.80" font-size="11.6" font-style="italic">SNORA49</text>
<text x="212.30" y="492.40" font-size="11.6">18S rRNA</text>
<text x="254.60" y="247.60" font-size="17.4" font-weight="bold">E</text>
<rect x="317.20" y="308.10" width="9.90" height="96.50" fill="#d9d9d9" stroke="#333" stroke-width="0.7" />
<line x1="322.15" y1="296.71" x2="322.15" y2="319.49" stroke="#222" stroke-width="0.7" />
<line x1="320.35" y1="296.71" x2="323.95" y2="296.71" stroke="#222" stroke-width="0.7" />
<line x1="320.35" y1="319.49" x2="323.95" y2="319.49" stroke="#222" stroke-width="0.7" />
<circle cx="321.9" cy="315.2" r="0.55" fill="#222"/>
<circle cx="321.7" cy="318.3" r="0.55" fill="#222"/>
<circle cx="322.3" cy="315.9" r="0.55" fill="#222"/>
<rect x="349.90" y="308.10" width="10.10" height="96.50" fill="#d9d9d9" stroke="#333" stroke-width="0.7" />
<line x1="354.95" y1="303.76" x2="354.95" y2="312.44" stroke="#222" stroke-width="0.7" />
<line x1="353.15" y1="303.76" x2="356.75" y2="303.76" stroke="#222" stroke-width="0.7" />
<line x1="353.15" y1="312.44" x2="356.75" y2="312.44" stroke="#222" stroke-width="0.7" />
<circle cx="355.4" cy="311.3" r="0.55" fill="#222"/>
<circle cx="355.3" cy="311.0" r="0.55" fill="#222"/>
<circle cx="354.5" cy="306.4" r="0.55" fill="#222"/>
<rect x="382.80" y="308.10" width="10.00" height="96.50" fill="#d9d9d9" stroke="#333" stroke-width="0.7" />
<line x1="387.80" y1="303.28" x2="387.80" y2="312.93" stroke="#222" stroke-width="0.7" />
<line x1="386.00" y1="303.28" x2="389.60" y2="303.28" stroke="#222" stroke-width="0.7" />
<line x1="386.00" y1="312.93" x2="389.60" y2="312.93" stroke="#222" stroke-width="0.7" />
<circle cx="387.5" cy="306.1" r="0.55" fill="#222"/>
<circle cx="387.5" cy="312.0" r="0.55" fill="#222"/>
<circle cx="388.1" cy="306.2" r="0.55" fill="#222"/>
<rect x="416.20" y="308.10" width="10.00" height="96.50" fill="#d9d9d9" stroke="#333" stroke-width="0.7" />
<line x1="421.20" y1="296.04" x2="421.20" y2="320.16" stroke="#222" stroke-width="0.7" />
<line x1="419.40" y1="296.04" x2="423.00" y2="296.04" stroke="#222" stroke-width="0.7" />
<line x1="419.40" y1="320.16" x2="423.00" y2="320.16" stroke="#222" stroke-width="0.7" />
<circle cx="421.6" cy="303.1" r="0.55" fill="#222"/>
<circle cx="420.8" cy="305.3" r="0.55" fill="#222"/>
<circle cx="421.4" cy="309.0" r="0.55" fill="#222"/>
<rect x="328.60" y="390.51" width="9.90" height="14.09" fill="#5b5bf6" stroke="#222" stroke-width="0.7" />
<line x1="333.55" y1="388.10" x2="333.55" y2="392.92" stroke="#222" stroke-width="0.7" />
<line x1="331.75" y1="388.10" x2="335.35" y2="388.10" stroke="#222" stroke-width="0.7" />
<line x1="331.75" y1="392.92" x2="335.35" y2="392.92" stroke="#222" stroke-width="0.7" />
<rect x="361.30" y="387.91" width="10.10" height="16.69" fill="#5b5bf6" stroke="#222" stroke-width="0.7" />
<line x1="366.35" y1="386.75" x2="366.35" y2="389.06" stroke="#222" stroke-width="0.7" />
<line x1="364.55" y1="386.75" x2="368.15" y2="386.75" stroke="#222" stroke-width="0.7" />
<line x1="364.55" y1="389.06" x2="368.15" y2="389.06" stroke="#222" stroke-width="0.7" />
<rect x="394.20" y="371.31" width="10.20" height="33.29" fill="#5b5bf6" stroke="#222" stroke-width="0.7" />
<line x1="399.30" y1="369.57" x2="399.30" y2="373.04" stroke="#222" stroke-width="0.7" />
<line x1="397.50" y1="369.57" x2="401.10" y2="369.57" stroke="#222" stroke-width="0.7" />
<line x1="397.50" y1="373.04" x2="401.10" y2="373.04" stroke="#222" stroke-width="0.7" />
<rect x="427.60" y="368.22" width="10.20" height="36.38" fill="#5b5bf6" stroke="#222" stroke-width="0.7" />
<line x1="432.70" y1="359.53" x2="432.70" y2="376.90" stroke="#222" stroke-width="0.7" />
<line x1="430.90" y1="359.53" x2="434.50" y2="359.53" stroke="#222" stroke-width="0.7" />
<line x1="430.90" y1="376.90" x2="434.50" y2="376.90" stroke="#222" stroke-width="0.7" />
<line x1="311.60" y1="259.30" x2="311.60" y2="405.20" stroke="#000" stroke-width="1.2" />
<line x1="306.20" y1="404.60" x2="444.00" y2="404.60" stroke="#000" stroke-width="1.2" />
<line x1="306.20" y1="259.85" x2="311.60" y2="259.85" stroke="#000" stroke-width="1.2" />
<line x1="306.20" y1="308.10" x2="311.60" y2="308.10" stroke="#000" stroke-width="1.2" />
<line x1="306.20" y1="356.35" x2="311.60" y2="356.35" stroke="#000" stroke-width="1.2" />
<text x="301.60" y="265.05" font-size="11" text-anchor="end">1.5</text>
<text x="301.60" y="312.00" font-size="11" text-anchor="end">1.0</text>
<text x="301.60" y="360.25" font-size="11" text-anchor="end">0.5</text>
<text x="301.60" y="403.50" font-size="11" text-anchor="end">0</text>
<text x="265.60" y="334.20" font-size="11.4" text-anchor="middle" transform="rotate(-90 265.60 334.20)"><tspan font-style="italic">SNORA49</tspan> expression</text>
<text x="275.80" y="330.40" font-size="11.8" text-anchor="middle" transform="rotate(-90 275.80 330.40)">(Fold change)</text>
<rect x="326.70" y="257.80" width="10.90" height="6.60" fill="#d9d9d9" stroke="#333" stroke-width="0.7" />
<text x="341.20" y="264.90" font-size="11.6">Non-CSC</text>
<rect x="404.50" y="257.80" width="11.20" height="6.60" fill="#5b5bf6" stroke="#222" stroke-width="0.7" />
<text x="418.10" y="264.90" font-size="11.6">CSC</text>
<line x1="321.00" y1="291.00" x2="330.00" y2="291.00" stroke="#222" stroke-width="0.8" />
<text x="325.50" y="289.80" font-size="10" text-anchor="middle" font-weight="bold">***</text>
<line x1="355.20" y1="292.00" x2="364.10" y2="292.00" stroke="#222" stroke-width="0.8" />
<text x="359.65" y="290.80" font-size="10" text-anchor="middle" font-weight="bold">***</text>
<line x1="387.80" y1="290.70" x2="396.90" y2="290.70" stroke="#222" stroke-width="0.8" />
<text x="392.35" y="289.50" font-size="10" text-anchor="middle" font-weight="bold">***</text>
<line x1="421.50" y1="288.80" x2="431.00" y2="288.80" stroke="#222" stroke-width="0.8" />
<text x="426.25" y="287.60" font-size="10" text-anchor="middle" font-weight="bold">**</text>
<line x1="327.80" y1="404.60" x2="327.80" y2="410.20" stroke="#000" stroke-width="1.2" />
<line x1="360.70" y1="404.60" x2="360.70" y2="410.20" stroke="#000" stroke-width="1.2" />
<line x1="393.50" y1="404.60" x2="393.50" y2="410.20" stroke="#000" stroke-width="1.2" />
<line x1="426.60" y1="404.60" x2="426.60" y2="410.20" stroke="#000" stroke-width="1.2" />
<text x="317.60" y="422.60" font-size="11.2">#1</text>
<text x="345.70" y="422.60" font-size="11.2">#2</text>
<text x="373.80" y="422.60" font-size="11.2">Huh7</text>
<text x="414.80" y="422.60" font-size="11.2">PLC</text>
<line x1="319.40" y1="425.70" x2="329.90" y2="425.70" stroke="#222" stroke-width="0.8" />
<line x1="351.50" y1="425.70" x2="362.80" y2="425.70" stroke="#222" stroke-width="0.8" />
<line x1="384.60" y1="425.70" x2="395.60" y2="425.70" stroke="#222" stroke-width="0.8" />
<line x1="418.00" y1="425.70" x2="429.00" y2="425.70" stroke="#222" stroke-width="0.8" />
<text x="286.60" y="437.00" font-size="9.5">nt</text>
<text x="318.10" y="438.00" font-size="11" text-anchor="middle">N</text>
<text x="332.50" y="438.00" font-size="11" text-anchor="middle">C</text>
<text x="350.70" y="438.00" font-size="11" text-anchor="middle">N</text>
<text x="365.10" y="438.00" font-size="11" text-anchor="middle">C</text>
<text x="383.50" y="438.00" font-size="11" text-anchor="middle">N</text>
<text x="398.50" y="438.00" font-size="11" text-anchor="middle">C</text>
<text x="416.40" y="438.00" font-size="11" text-anchor="middle">N</text>
<text x="431.30" y="438.00" font-size="11" text-anchor="middle">C</text>
<clipPath id="ce1"><rect x="303.6" y="441.5" width="144.6" height="25.4"/></clipPath>
<clipPath id="ce2"><rect x="303.6" y="474.4" width="144.6" height="25"/></clipPath>
<rect x="303.60" y="441.50" width="144.60" height="25.40" fill="#f2f2f2" />
<g clip-path="url(#ce1)">
<rect x="312.5" y="452.0" width="12.8" height="7.2" rx="3.6" fill="#000" opacity="0.90" filter="url(#b1)"/>
<rect x="313.8" y="453.4" width="10.2" height="4.3" rx="2.2" fill="#000" opacity="0.85" filter="url(#b05)"/>
<rect x="330.3" y="453.8" width="4.4" height="2.4" rx="1.2" fill="#000" opacity="0.32" filter="url(#b1)"/>
<rect x="345.3" y="451.6" width="13.2" height="7.4" rx="3.7" fill="#000" opacity="0.90" filter="url(#b1)"/>
<rect x="346.6" y="453.1" width="10.6" height="4.4" rx="2.2" fill="#000" opacity="0.85" filter="url(#b05)"/>
<rect x="361.3" y="453.3" width="6.2" height="4.0" rx="2.0" fill="#000" opacity="0.85" filter="url(#b1)"/>
<rect x="361.9" y="454.1" width="5.0" height="2.4" rx="1.2" fill="#000" opacity="0.85" filter="url(#b05)"/>
<rect x="375.0" y="453.4" width="14.2" height="8.4" rx="4.2" fill="#000" opacity="0.90" filter="url(#b1)"/>
<rect x="376.4" y="455.1" width="11.4" height="5.0" rx="2.5" fill="#000" opacity="0.85" filter="url(#b05)"/>
<rect x="392.1" y="454.7" width="11.0" height="5.2" rx="2.6" fill="#000" opacity="0.85" filter="url(#b1)"/>
<rect x="393.2" y="455.7" width="8.8" height="3.1" rx="1.6" fill="#000" opacity="0.85" filter="url(#b05)"/>
<rect x="406.8" y="453.6" width="14.8" height="8.4" rx="4.2" fill="#000" opacity="0.90" filter="url(#b1)"/>
<rect x="408.3" y="455.3" width="11.8" height="5.0" rx="2.5" fill="#000" opacity="0.85" filter="url(#b05)"/>
<rect x="424.6" y="454.7" width="12.0" height="5.8" rx="2.9" fill="#000" opacity="0.90" filter="url(#b1)"/>
<rect x="425.8" y="455.9" width="9.6" height="3.5" rx="1.7" fill="#000" opacity="0.85" filter="url(#b05)"/>
<ellipse cx="318" cy="462" rx="4.5" ry="3.5" fill="#000" opacity="0.3" filter="url(#b2)"/>
</g>
<rect x="303.60" y="441.50" width="144.60" height="25.40" fill="none" stroke="#111" stroke-width="0.9" />
<rect x="303.60" y="474.40" width="144.60" height="25.00" fill="#f2f2f2" />
<g clip-path="url(#ce2)">
<rect x="312.3" y="483.6" width="13.2" height="8.6" rx="3.4" fill="#0c0c0c" opacity="0.92" filter="url(#b1)"/>
<ellipse cx="318.9" cy="492.5" rx="6" ry="4.2" fill="#000" opacity="0.28" filter="url(#b2)"/>
<ellipse cx="318.9" cy="485" rx="6.5" ry="4" fill="#000" opacity="0.25" filter="url(#b2)"/>
<rect x="328.6" y="483.6" width="13.2" height="8.6" rx="3.4" fill="#0c0c0c" opacity="0.92" filter="url(#b1)"/>
<ellipse cx="335.2" cy="492.5" rx="6" ry="4.2" fill="#000" opacity="0.28" filter="url(#b2)"/>
<ellipse cx="335.2" cy="485" rx="6.5" ry="4" fill="#000" opacity="0.25" filter="url(#b2)"/>
<rect x="344.4" y="483.6" width="13.2" height="8.6" rx="3.4" fill="#0c0c0c" opacity="0.92" filter="url(#b1)"/>
<ellipse cx="351" cy="492.5" rx="6" ry="4.2" fill="#000" opacity="0.28" filter="url(#b2)"/>
<ellipse cx="351" cy="485" rx="6.5" ry="4" fill="#000" opacity="0.25" filter="url(#b2)"/>
<rect x="360.1" y="483.6" width="13.2" height="8.6" rx="3.4" fill="#0c0c0c" opacity="0.92" filter="url(#b1)"/>
<ellipse cx="366.7" cy="492.5" rx="6" ry="4.2" fill="#000" opacity="0.28" filter="url(#b2)"/>
<ellipse cx="366.7" cy="485" rx="6.5" ry="4" fill="#000" opacity="0.25" filter="url(#b2)"/>
<rect x="375.9" y="483.6" width="13.2" height="8.6" rx="3.4" fill="#0c0c0c" opacity="0.92" filter="url(#b1)"/>
<ellipse cx="382.5" cy="492.5" rx="6" ry="4.2" fill="#000" opacity="0.28" filter="url(#b2)"/>
<ellipse cx="382.5" cy="485" rx="6.5" ry="4" fill="#000" opacity="0.25" filter="url(#b2)"/>
<rect x="391.6" y="483.6" width="13.2" height="8.6" rx="3.4" fill="#0c0c0c" opacity="0.92" filter="url(#b1)"/>
<ellipse cx="398.2" cy="492.5" rx="6" ry="4.2" fill="#000" opacity="0.28" filter="url(#b2)"/>
<ellipse cx="398.2" cy="485" rx="6.5" ry="4" fill="#000" opacity="0.25" filter="url(#b2)"/>
<rect x="407.9" y="483.6" width="13.2" height="8.6" rx="3.4" fill="#0c0c0c" opacity="0.92" filter="url(#b1)"/>
<ellipse cx="414.5" cy="492.5" rx="6" ry="4.2" fill="#000" opacity="0.28" filter="url(#b2)"/>
<ellipse cx="414.5" cy="485" rx="6.5" ry="4" fill="#000" opacity="0.25" filter="url(#b2)"/>
<rect x="425.3" y="483.6" width="13.2" height="8.6" rx="3.4" fill="#0c0c0c" opacity="0.92" filter="url(#b1)"/>
<ellipse cx="431.9" cy="492.5" rx="6" ry="4.2" fill="#000" opacity="0.28" filter="url(#b2)"/>
<ellipse cx="431.9" cy="485" rx="6.5" ry="4" fill="#000" opacity="0.25" filter="url(#b2)"/>
</g>
<rect x="303.60" y="474.40" width="144.60" height="25.00" fill="none" stroke="#111" stroke-width="0.9" />
<text x="296.30" y="453.10" font-size="9.8" text-anchor="end">150</text>
<text x="296.30" y="486.00" font-size="9.8" text-anchor="end">2000</text>
<line x1="297.40" y1="449.80" x2="301.80" y2="449.80" stroke="#000" stroke-width="0.9" />
<line x1="297.40" y1="482.70" x2="301.80" y2="482.70" stroke="#000" stroke-width="0.9" />
<text x="453.30" y="458.30" font-size="11.6" font-style="italic">SNORA49</text>
<text x="454.60" y="488.60" font-size="11.6">18S rRNA</text>
<text x="477.70" y="247.80" font-size="17.4" font-weight="bold">F</text>
<rect x="518.50" y="323.07" width="12.80" height="67.83" fill="#ff1e0a" stroke="#222" stroke-width="0.6" />
<rect x="518.50" y="312.59" width="12.80" height="10.48" fill="#fff" stroke="#222" stroke-width="0.6" />
<rect x="518.50" y="289.20" width="12.80" height="23.39" fill="#5b5bf6" stroke="#222" stroke-width="0.6" />
<line x1="524.90" y1="323.07" x2="524.90" y2="316.96" stroke="#333" stroke-width="0.6" />
<line x1="522.30" y1="316.96" x2="527.50" y2="316.96" stroke="#333" stroke-width="0.6" />
<line x1="524.90" y1="312.59" x2="524.90" y2="310.56" stroke="#333" stroke-width="0.6" />
<line x1="522.30" y1="310.56" x2="527.50" y2="310.56" stroke="#333" stroke-width="0.6" />
<line x1="524.90" y1="289.20" x2="524.90" y2="283.10" stroke="#333" stroke-width="0.6" />
<line x1="522.30" y1="283.10" x2="527.50" y2="283.10" stroke="#333" stroke-width="0.6" />
<rect x="537.00" y="352.97" width="12.80" height="37.93" fill="#ff1e0a" stroke="#222" stroke-width="0.6" />
<rect x="537.00" y="325.91" width="12.80" height="27.05" fill="#fff" stroke="#222" stroke-width="0.6" />
<rect x="537.00" y="289.20" width="12.80" height="36.71" fill="#5b5bf6" stroke="#222" stroke-width="0.6" />
<line x1="543.40" y1="352.97" x2="543.40" y2="352.36" stroke="#333" stroke-width="0.6" />
<line x1="540.80" y1="352.36" x2="546.00" y2="352.36" stroke="#333" stroke-width="0.6" />
<line x1="543.40" y1="325.91" x2="543.40" y2="324.69" stroke="#333" stroke-width="0.6" />
<line x1="540.80" y1="324.69" x2="546.00" y2="324.69" stroke="#333" stroke-width="0.6" />
<line x1="543.40" y1="289.20" x2="543.40" y2="288.39" stroke="#333" stroke-width="0.6" />
<line x1="540.80" y1="288.39" x2="546.00" y2="288.39" stroke="#333" stroke-width="0.6" />
<rect x="556.00" y="378.90" width="12.90" height="12.00" fill="#ff1e0a" stroke="#222" stroke-width="0.6" />
<rect x="556.00" y="378.09" width="12.90" height="0.81" fill="#fff" stroke="#222" stroke-width="0.6" />
<rect x="556.00" y="289.20" width="12.90" height="88.89" fill="#5b5bf6" stroke="#222" stroke-width="0.6" />
<line x1="562.45" y1="378.90" x2="562.45" y2="378.09" stroke="#333" stroke-width="0.6" />
<line x1="559.85" y1="378.09" x2="565.05" y2="378.09" stroke="#333" stroke-width="0.6" />
<line x1="562.45" y1="378.09" x2="562.45" y2="377.58" stroke="#333" stroke-width="0.6" />
<line x1="559.85" y1="377.58" x2="565.05" y2="377.58" stroke="#333" stroke-width="0.6" />
<line x1="562.45" y1="289.20" x2="562.45" y2="288.59" stroke="#333" stroke-width="0.6" />
<line x1="559.85" y1="288.59" x2="565.05" y2="288.59" stroke="#333" stroke-width="0.6" />
<rect x="574.80" y="310.25" width="12.80" height="80.65" fill="#ff1e0a" stroke="#222" stroke-width="0.6" />
<rect x="574.80" y="296.93" width="12.80" height="13.32" fill="#fff" stroke="#222" stroke-width="0.6" />
<rect x="574.80" y="289.20" width="12.80" height="7.73" fill="#5b5bf6" stroke="#222" stroke-width="0.6" />
<line x1="581.20" y1="310.25" x2="581.20" y2="305.17" stroke="#333" stroke-width="0.6" />
<line x1="578.60" y1="305.17" x2="583.80" y2="305.17" stroke="#333" stroke-width="0.6" />
<line x1="581.20" y1="296.93" x2="581.20" y2="293.37" stroke="#333" stroke-width="0.6" />
<line x1="578.60" y1="293.37" x2="583.80" y2="293.37" stroke="#333" stroke-width="0.6" />
<line x1="581.20" y1="289.20" x2="581.20" y2="286.96" stroke="#333" stroke-width="0.6" />
<line x1="578.60" y1="286.96" x2="583.80" y2="286.96" stroke="#333" stroke-width="0.6" />
<line x1="512.80" y1="269.50" x2="512.80" y2="391.40" stroke="#000" stroke-width="1.1" />
<line x1="508.00" y1="390.90" x2="594.00" y2="390.90" stroke="#000" stroke-width="1.1" />
<line x1="508.00" y1="289.20" x2="512.80" y2="289.20" stroke="#000" stroke-width="1.1" />
<line x1="508.00" y1="340.05" x2="512.80" y2="340.05" stroke="#000" stroke-width="1.1" />
<text x="506.50" y="293.10" font-size="11" text-anchor="end">100</text>
<text x="506.50" y="343.95" font-size="11" text-anchor="end">50</text>
<text x="506.50" y="394.80" font-size="11" text-anchor="end">0</text>
<text x="485.30" y="334.00" font-size="11.7" text-anchor="middle" transform="rotate(-90 485.30 334.00)">Transcript abundance (%)</text>
<rect x="600.40" y="249.40" width="13.40" height="6.40" fill="#5b5bf6" stroke="#222" stroke-width="0.6" />
<text x="617.50" y="256.60" font-size="11.4">Cytoplasm</text>
<rect x="600.40" y="265.20" width="13.40" height="6.60" fill="#fff" stroke="#222" stroke-width="0.6" />
<text x="617.50" y="272.40" font-size="11.4">Nucleolus</text>
<rect x="600.40" y="282.00" width="13.40" height="6.40" fill="#ff1e0a" stroke="#222" stroke-width="0.6" />
<text x="617.50" y="289.20" font-size="11.4">Nucleoplasm</text>
<line x1="524.80" y1="390.90" x2="524.80" y2="396.90" stroke="#000" stroke-width="1.1" />
<text x="530.60" y="403.10" font-size="11.4" text-anchor="end" font-style="italic" transform="rotate(-45 530.60 403.10)">U1</text>
<line x1="543.70" y1="390.90" x2="543.70" y2="396.90" stroke="#000" stroke-width="1.1" />
<text x="549.50" y="403.10" font-size="11.4" text-anchor="end" transform="rotate(-45 549.50 403.10)">18S</text>
<line x1="562.70" y1="390.90" x2="562.70" y2="396.90" stroke="#000" stroke-width="1.1" />
<text x="568.50" y="403.10" font-size="11.4" text-anchor="end" font-style="italic" transform="rotate(-45 568.50 403.10)">ACTB</text>
<line x1="581.00" y1="390.90" x2="581.00" y2="396.90" stroke="#000" stroke-width="1.1" />
<text x="586.80" y="403.10" font-size="11.4" text-anchor="end" font-style="italic" transform="rotate(-45 586.80 403.10)">SNORA49</text>
<text x="539.80" y="456.80" font-size="9.9">kDa</text>
<text x="572.00" y="457.20" font-size="11.4" transform="rotate(-45 572.00 457.20)">Total</text>
<text x="589.00" y="457.20" font-size="11.4" transform="rotate(-45 589.00 457.20)">Cytoplasm</text>
<text x="605.50" y="457.20" font-size="11.4" transform="rotate(-45 605.50 457.20)">Nucleoplasm</text>
<text x="619.50" y="457.20" font-size="11.4" transform="rotate(-45 619.50 457.20)">Nucleolus</text>
<clipPath id="cf0"><rect x="564.3" y="457.9" width="63.2" height="16.8"/></clipPath>
<rect x="564.30" y="457.90" width="63.20" height="16.80" fill="#f2f2f2" />
<clipPath id="cf1"><rect x="564.3" y="477.4" width="63.2" height="17"/></clipPath>
<rect x="564.30" y="477.40" width="63.20" height="17.00" fill="#f2f2f2" />
<clipPath id="cf2"><rect x="564.3" y="497.1" width="63.2" height="17"/></clipPath>
<rect x="564.30" y="497.10" width="63.20" height="17.00" fill="#f2f2f2" />
<g clip-path="url(#cf0)"><ellipse cx="576.2" cy="467" rx="5.6" ry="2.6" fill="#000" filter="url(#b1)"/><ellipse cx="576.2" cy="467" rx="4.8" ry="2.0" fill="#000" filter="url(#b05)"/></g>
<g clip-path="url(#cf0)"><ellipse cx="589.8" cy="467" rx="5.6" ry="2.6" fill="#000" filter="url(#b1)"/><ellipse cx="589.8" cy="467" rx="4.8" ry="2.0" fill="#000" filter="url(#b05)"/></g>
<g clip-path="url(#cf1)"><ellipse cx="577" cy="486" rx="6.7" ry="3.5" fill="#000" filter="url(#b1)"/><ellipse cx="577" cy="486" rx="5.7" ry="2.6" fill="#000" filter="url(#b05)"/></g>
<g clip-path="url(#cf1)"><ellipse cx="600.7" cy="486.8" rx="5.3" ry="2.8" fill="#000" filter="url(#b1)"/><ellipse cx="600.7" cy="486.8" rx="4.5" ry="2.1" fill="#000" filter="url(#b05)"/></g>
<g clip-path="url(#cf2)"><ellipse cx="577.5" cy="504.8" rx="7.2" ry="3.8" fill="#000" filter="url(#b1)"/><ellipse cx="577.5" cy="504.8" rx="6.1" ry="2.8" fill="#000" filter="url(#b05)"/></g>
<g clip-path="url(#cf2)"><ellipse cx="614.2" cy="507.2" rx="6" ry="2.9" fill="#000" filter="url(#b1)"/><ellipse cx="614.2" cy="507.2" rx="5.1" ry="2.2" fill="#000" filter="url(#b05)"/></g>
<rect x="564.30" y="457.90" width="63.20" height="16.80" fill="none" stroke="#222" stroke-width="0.9" />
<rect x="564.30" y="477.40" width="63.20" height="17.00" fill="none" stroke="#222" stroke-width="0.9" />
<rect x="564.30" y="497.10" width="63.20" height="17.00" fill="none" stroke="#222" stroke-width="0.9" />
<text x="557.00" y="476.30" font-size="10" text-anchor="end">130</text>
<text x="557.00" y="493.80" font-size="10" text-anchor="end">10</text>
<text x="557.00" y="510.30" font-size="10" text-anchor="end">100</text>
<line x1="558.00" y1="473.00" x2="562.40" y2="473.00" stroke="#000" stroke-width="0.9" />
<line x1="558.00" y1="490.50" x2="562.40" y2="490.50" stroke="#000" stroke-width="0.9" />
<line x1="558.00" y1="507.00" x2="562.40" y2="507.00" stroke="#000" stroke-width="0.9" />
<text x="632.90" y="470.60" font-size="11.4">EEA1</text>
<text x="632.90" y="489.60" font-size="11.4">H3</text>
<text x="632.90" y="508.00" font-size="11.4">Nucleolin</text>
<text x="9.20" y="537.40" font-size="17.4" font-weight="bold">G</text>
<text x="66.20" y="549.00" font-size="11.5" text-anchor="middle" font-style="italic" fill="#44ad38">SNORA49</text>
<text x="146.50" y="549.00" font-size="11.5" text-anchor="middle" fill="#3a3af0">DAPI</text>
<text x="225.30" y="549.00" font-size="11.5" text-anchor="middle" fill="#ff2a1e">Nucleolin</text>
<text x="305.30" y="549.00" font-size="11.5" text-anchor="middle">Merge</text>
<text x="20.30" y="595.80" font-size="11" text-anchor="middle" transform="rotate(-90 20.30 595.80)">CSC</text>
<text x="20.30" y="667.30" font-size="11" text-anchor="middle" transform="rotate(-90 20.30 667.30)">Non-CSC</text>
<clipPath id="cg00"><rect x="29.05" y="555.9" width="75.65" height="75.1"/></clipPath>
<clipPath id="cg01"><rect x="108.1" y="555.9" width="75.3" height="75.1"/></clipPath>
<clipPath id="cg02"><rect x="187.05" y="555.9" width="75.05" height="75.1"/></clipPath>
<clipPath id="cg03"><rect x="266.06" y="555.9" width="74.85" height="75.1"/></clipPath>
<clipPath id="cg10"><rect x="29.05" y="634.9" width="75.65" height="75.3"/></clipPath>
<clipPath id="cg11"><rect x="108.1" y="634.9" width="75.3" height="75.3"/></clipPath>
<clipPath id="cg12"><rect x="187.05" y="634.9" width="75.05" height="75.3"/></clipPath>
<clipPath id="cg13"><rect x="266.06" y="634.9" width="74.85" height="75.3"/></clipPath>
<g clip-path="url(#cg00)"><g filter="url(#texg)"><rect x="24.05" y="550.9" width="86" height="85.1" fill="#000"/><ellipse cx="55.2" cy="579.9" rx="10.6" ry="9.6" fill="rgb(28,112,18)" opacity="0.45" transform="rotate(20 55.2 579.9)"/><ellipse cx="55.2" cy="579.9" rx="8.5" ry="7.7" fill="rgb(28,112,18)" opacity="0.5" transform="rotate(20 55.2 579.9)"/><ellipse cx="55.2" cy="579.9" rx="5.8" ry="5.3" fill="rgb(28,112,18)" opacity="0.6" transform="rotate(20 55.2 579.9)"/><circle cx="56.9" cy="575.1" r="2.9" fill="#000" opacity="0.55"/><circle cx="62.5" cy="582.7" r="1.6" fill="#000" opacity="0.55"/><ellipse cx="82.5" cy="612.7" rx="10.8" ry="6.9" fill="rgb(30,120,20)" opacity="0.45" transform="rotate(-12 82.5 612.7)"/><ellipse cx="82.5" cy="612.7" rx="8.6" ry="5.5" fill="rgb(30,120,20)" opacity="0.5" transform="rotate(-12 82.5 612.7)"/><ellipse cx="82.5" cy="612.7" rx="5.9" ry="3.8" fill="rgb(30,120,20)" opacity="0.6" transform="rotate(-12 82.5 612.7)"/><circle cx="84.0" cy="613.2" r="2.2" fill="#000" opacity="0.55"/></g></g>
<g clip-path="url(#cg01)"><g filter="url(#texb)"><rect x="103.1" y="550.9" width="86" height="85.1" fill="#000"/><ellipse cx="134.3" cy="579.9" rx="12.6" ry="11.9" fill="rgb(36,28,200)" transform="rotate(20 134.3 579.9)"/><circle cx="135.9" cy="575.1" r="2.9" fill="#000" opacity="0.4"/><circle cx="141.5" cy="582.7" r="1.6" fill="#000" opacity="0.4"/><ellipse cx="161.5" cy="612.7" rx="11.8" ry="8.3" fill="rgb(36,28,198)" transform="rotate(-12 161.5 612.7)"/><circle cx="163.0" cy="613.2" r="2.2" fill="#000" opacity="0.4"/></g></g>
<g clip-path="url(#cg02)"><rect x="187.05" y="555.9" width="76" height="75.1" fill="#000"/><circle cx="215.2" cy="578.0" r="3.30" fill="#ff2a1c" opacity="1" filter="url(#b03)"/><circle cx="215.2" cy="578.0" r="1.65" fill="#c01008" opacity="0.45" filter="url(#b05)"/><circle cx="208.6" cy="575.2" r="1.00" fill="#ff2a1c" opacity="1" filter="url(#b03)"/><circle cx="219.2" cy="585.4" r="1.70" fill="#ff2a1c" opacity="1" filter="url(#b03)"/><circle cx="211.1" cy="586.2" r="1.00" fill="#ff2a1c" opacity="1" filter="url(#b03)"/><circle cx="206.7" cy="584.3" r="0.80" fill="#ff2a1c" opacity="1" filter="url(#b03)"/><circle cx="248.8" cy="615.2" r="1.70" fill="#ff2a1c" opacity="1" filter="url(#b03)"/><circle cx="241.1" cy="614.6" r="2.40" fill="#ff2a1c" opacity="0.5" filter="url(#b03)"/><circle cx="234.5" cy="617.1" r="1.30" fill="#ff2a1c" opacity="1" filter="url(#b03)"/><circle cx="232.2" cy="610.5" r="0.60" fill="#ff2a1c" opacity="0.8" filter="url(#b03)"/></g>
<g clip-path="url(#cg03)" style="isolation:isolate"><g filter="url(#texb)"><rect x="261.06" y="550.9" width="86" height="85.1" fill="#000"/><ellipse cx="292.3" cy="579.9" rx="12.6" ry="11.9" fill="rgb(30,30,165)" transform="rotate(20 292.3 579.9)"/><circle cx="293.9" cy="575.1" r="2.9" fill="#000" opacity="0.4"/><circle cx="299.5" cy="582.7" r="1.6" fill="#000" opacity="0.4"/><ellipse cx="319.5" cy="612.7" rx="11.8" ry="8.3" fill="rgb(32,32,175)" transform="rotate(-12 319.5 612.7)"/><circle cx="321.0" cy="613.2" r="2.2" fill="#000" opacity="0.4"/></g><g filter="url(#texg)" style="mix-blend-mode:screen"><rect x="261.06" y="550.9" width="86" height="85.1" fill="#000"/><ellipse cx="292.3" cy="579.9" rx="7.6" ry="7.1" fill="rgb(45,135,50)" opacity="0.45" transform="rotate(20 292.3 579.9)"/><ellipse cx="292.3" cy="579.9" rx="6.0" ry="5.7" fill="rgb(45,135,50)" opacity="0.5" transform="rotate(20 292.3 579.9)"/><ellipse cx="292.3" cy="579.9" rx="4.2" ry="3.9" fill="rgb(45,135,50)" opacity="0.6" transform="rotate(20 292.3 579.9)"/><ellipse cx="319.5" cy="612.7" rx="9.4" ry="6.6" fill="rgb(30,100,36)" opacity="0.45" transform="rotate(-12 319.5 612.7)"/><ellipse cx="319.5" cy="612.7" rx="7.6" ry="5.3" fill="rgb(30,100,36)" opacity="0.5" transform="rotate(-12 319.5 612.7)"/><ellipse cx="319.5" cy="612.7" rx="5.2" ry="3.7" fill="rgb(30,100,36)" opacity="0.6" transform="rotate(-12 319.5 612.7)"/></g><circle cx="294.2" cy="578.0" r="2.90" fill="#ff2a50" opacity="1" filter="url(#b03)"/><circle cx="294.2" cy="578.0" r="1.45" fill="#c01008" opacity="0.45" filter="url(#b05)"/><circle cx="287.6" cy="575.2" r="0.88" fill="#ff2a50" opacity="1" filter="url(#b03)"/><circle cx="298.3" cy="585.4" r="1.50" fill="#ff2a50" opacity="1" filter="url(#b03)"/><circle cx="290.1" cy="586.2" r="0.88" fill="#ff2a50" opacity="1" filter="url(#b03)"/><circle cx="285.7" cy="584.3" r="0.70" fill="#ff2a50" opacity="1" filter="url(#b03)"/><circle cx="327.8" cy="615.2" r="1.50" fill="#ff2a50" opacity="1" filter="url(#b03)"/><circle cx="320.1" cy="614.6" r="2.11" fill="#ff2a50" opacity="0.5" filter="url(#b03)"/><circle cx="313.5" cy="617.1" r="1.14" fill="#ff2a50" opacity="1" filter="url(#b03)"/><circle cx="311.3" cy="610.5" r="0.53" fill="#ff2a50" opacity="0.8" filter="url(#b03)"/><rect x="324.96" y="624.50" width="12.1" height="1.9" fill="#e4e4e4"/></g>
<g clip-path="url(#cg10)"><g filter="url(#texg)"><rect x="24.05" y="629.9" width="86" height="85.3" fill="#000"/><ellipse cx="42.2" cy="661.9" rx="11.7" ry="9.1" fill="rgb(64,250,32)" transform="rotate(-10 42.2 661.9)"/><circle cx="39.2" cy="663.9" r="1.6" fill="#000" opacity="0.55"/><circle cx="46.2" cy="660.9" r="1.4" fill="#000" opacity="0.55"/><ellipse cx="47.2" cy="681.1" rx="10.1" ry="8.9" fill="rgb(36,140,22)" transform="rotate(15 47.2 681.1)"/><circle cx="49.2" cy="682.1" r="1.8" fill="#000" opacity="0.55"/><circle cx="44.2" cy="679.1" r="1.3" fill="#000" opacity="0.55"/><ellipse cx="65.2" cy="677.9" rx="8.2" ry="9.9" fill="rgb(44,172,26)" transform="rotate(15 65.2 677.9)"/><circle cx="66.2" cy="676.9" r="1.9" fill="#000" opacity="0.55"/><circle cx="64.2" cy="681.9" r="1.3" fill="#000" opacity="0.55"/><ellipse cx="89.8" cy="681.1" rx="9.5" ry="8.0" fill="rgb(58,240,32)" transform="rotate(-5 89.8 681.1)"/><circle cx="87.8" cy="681.1" r="1.7" fill="#000" opacity="0.55"/><circle cx="92.8" cy="682.1" r="1.4" fill="#000" opacity="0.55"/><ellipse cx="79.8" cy="693.7" rx="9.7" ry="7.4" fill="rgb(44,168,26)" transform="rotate(22 79.8 693.7)"/><circle cx="78.8" cy="693.7" r="1.7" fill="#000" opacity="0.55"/><circle cx="82.8" cy="694.7" r="1.3" fill="#000" opacity="0.55"/></g></g>
<g clip-path="url(#cg11)"><g filter="url(#texb)"><rect x="103.1" y="629.9" width="86" height="85.3" fill="#000"/><ellipse cx="121.3" cy="661.9" rx="12.0" ry="9.5" fill="rgb(56,44,255)" transform="rotate(-10 121.3 661.9)"/><circle cx="118.3" cy="663.9" r="1.6" fill="#000" opacity="0.4"/><circle cx="125.3" cy="660.9" r="1.4" fill="#000" opacity="0.4"/><ellipse cx="126.3" cy="681.1" rx="10.4" ry="9.5" fill="rgb(42,36,225)" transform="rotate(15 126.3 681.1)"/><circle cx="128.3" cy="682.1" r="1.8" fill="#000" opacity="0.4"/><circle cx="123.3" cy="679.1" r="1.3" fill="#000" opacity="0.4"/><ellipse cx="144.3" cy="677.9" rx="8.3" ry="10.2" fill="rgb(48,40,245)" transform="rotate(15 144.3 677.9)"/><circle cx="145.3" cy="676.9" r="1.9" fill="#000" opacity="0.4"/><circle cx="143.3" cy="681.9" r="1.3" fill="#000" opacity="0.4"/><ellipse cx="168.8" cy="681.1" rx="9.8" ry="8.3" fill="rgb(28,23,158)" transform="rotate(-5 168.8 681.1)"/><circle cx="166.8" cy="681.1" r="1.7" fill="#000" opacity="0.4"/><circle cx="171.8" cy="682.1" r="1.4" fill="#000" opacity="0.4"/><ellipse cx="158.8" cy="693.7" rx="9.8" ry="7.8" fill="rgb(28,23,158)" transform="rotate(22 158.8 693.7)"/><circle cx="157.8" cy="693.7" r="1.7" fill="#000" opacity="0.4"/><circle cx="161.8" cy="694.7" r="1.3" fill="#000" opacity="0.4"/></g></g>
<g clip-path="url(#cg12)"><rect x="187.05" y="634.9" width="76" height="75.3" fill="#000"/><circle cx="200.6" cy="656.9" r="2.20" fill="#ff2a1c" opacity="1" filter="url(#b03)"/><circle cx="199.2" cy="659.4" r="1.60" fill="#ff2a1c" opacity="1" filter="url(#b03)"/><circle cx="200.6" cy="663.3" r="1.70" fill="#ff2a1c" opacity="1" filter="url(#b03)"/><circle cx="204.1" cy="658.5" r="1.70" fill="#ff2a1c" opacity="1" filter="url(#b03)"/><circle cx="202.7" cy="656.3" r="1.20" fill="#ff2a1c" opacity="1" filter="url(#b03)"/><circle cx="208.2" cy="656.5" r="1.10" fill="#ff2a1c" opacity="1" filter="url(#b03)"/><circle cx="209.7" cy="660.5" r="0.90" fill="#ff2a1c" opacity="1" filter="url(#b03)"/><circle cx="226.8" cy="671.0" r="2.00" fill="#ff2a1c" opacity="1" filter="url(#b03)"/><circle cx="224.5" cy="670.0" r="1.30" fill="#ff2a1c" opacity="1" filter="url(#b03)"/><circle cx="228.6" cy="672.7" r="1.00" fill="#ff2a1c" opacity="1" filter="url(#b03)"/><circle cx="200.6" cy="677.6" r="1.60" fill="#ff2a1c" opacity="1" filter="url(#b03)"/><circle cx="202.6" cy="678.5" r="1.00" fill="#ff2a1c" opacity="1" filter="url(#b03)"/><circle cx="210.2" cy="679.8" r="1.70" fill="#ff2a1c" opacity="1" filter="url(#b03)"/><circle cx="212.2" cy="682.3" r="1.30" fill="#ff2a1c" opacity="1" filter="url(#b03)"/><circle cx="219.2" cy="677.6" r="1.70" fill="#ff2a1c" opacity="1" filter="url(#b03)"/><circle cx="218.7" cy="679.9" r="1.00" fill="#ff2a1c" opacity="1" filter="url(#b03)"/><circle cx="203.4" cy="684.8" r="0.90" fill="#ff2a1c" opacity="1" filter="url(#b03)"/><circle cx="226.1" cy="681.9" r="0.80" fill="#ff2a1c" opacity="1" filter="url(#b03)"/><circle cx="245.2" cy="677.9" r="1.70" fill="#ff2a1c" opacity="1" filter="url(#b03)"/><circle cx="248.8" cy="675.7" r="0.80" fill="#ff2a1c" opacity="1" filter="url(#b03)"/><circle cx="250.2" cy="684.5" r="1.40" fill="#ff2a1c" opacity="1" filter="url(#b03)"/><circle cx="233.7" cy="690.9" r="1.80" fill="#ff2a1c" opacity="1" filter="url(#b03)"/><circle cx="242.8" cy="691.7" r="1.60" fill="#ff2a1c" opacity="1" filter="url(#b03)"/><circle cx="243.7" cy="693.5" r="1.00" fill="#ff2a1c" opacity="1" filter="url(#b03)"/></g>
<g clip-path="url(#cg13)" style="isolation:isolate"><g filter="url(#texb)"><rect x="261.06" y="629.9" width="86" height="85.3" fill="#000"/><ellipse cx="279.3" cy="661.9" rx="12.0" ry="9.5" fill="rgb(50,55,205)" transform="rotate(-10 279.3 661.9)"/><circle cx="276.3" cy="663.9" r="1.6" fill="#000" opacity="0.4"/><circle cx="283.3" cy="660.9" r="1.4" fill="#000" opacity="0.4"/><ellipse cx="284.3" cy="681.1" rx="10.4" ry="9.5" fill="rgb(44,44,215)" transform="rotate(15 284.3 681.1)"/><circle cx="286.3" cy="682.1" r="1.8" fill="#000" opacity="0.4"/><circle cx="281.3" cy="679.1" r="1.3" fill="#000" opacity="0.4"/><ellipse cx="302.3" cy="677.9" rx="8.3" ry="10.2" fill="rgb(50,50,240)" transform="rotate(15 302.3 677.9)"/><circle cx="303.3" cy="676.9" r="1.9" fill="#000" opacity="0.4"/><circle cx="301.3" cy="681.9" r="1.3" fill="#000" opacity="0.4"/><ellipse cx="326.8" cy="681.1" rx="9.8" ry="8.3" fill="rgb(22,30,115)" transform="rotate(-5 326.8 681.1)"/><circle cx="324.8" cy="681.1" r="1.7" fill="#000" opacity="0.4"/><circle cx="329.8" cy="682.1" r="1.4" fill="#000" opacity="0.4"/><ellipse cx="316.8" cy="693.7" rx="9.8" ry="7.8" fill="rgb(34,40,175)" transform="rotate(22 316.8 693.7)"/><circle cx="315.8" cy="693.7" r="1.7" fill="#000" opacity="0.4"/><circle cx="319.8" cy="694.7" r="1.3" fill="#000" opacity="0.4"/></g><g filter="url(#texg)" style="mix-blend-mode:screen"><rect x="261.06" y="629.9" width="86" height="85.3" fill="#000"/><ellipse cx="279.3" cy="661.9" rx="12.0" ry="9.5" fill="rgb(100,225,100)" transform="rotate(-10 279.3 661.9)"/><ellipse cx="284.3" cy="681.1" rx="10.4" ry="9.5" fill="rgb(30,105,50)" transform="rotate(15 284.3 681.1)"/><ellipse cx="302.3" cy="677.9" rx="8.3" ry="10.2" fill="rgb(20,80,40)" transform="rotate(15 302.3 677.9)"/><ellipse cx="326.8" cy="681.1" rx="9.0" ry="7.6" fill="rgb(80,225,70)" transform="rotate(-5 326.8 681.1)"/><ellipse cx="316.8" cy="693.7" rx="9.8" ry="7.8" fill="rgb(50,150,70)" transform="rotate(22 316.8 693.7)"/></g><circle cx="279.6" cy="656.9" r="1.94" fill="#ff2a50" opacity="1" filter="url(#b03)"/><circle cx="278.3" cy="659.4" r="1.41" fill="#ff2a50" opacity="1" filter="url(#b03)"/><circle cx="279.6" cy="663.3" r="1.50" fill="#ff2a50" opacity="1" filter="url(#b03)"/><circle cx="283.1" cy="658.5" r="1.50" fill="#ff2a50" opacity="1" filter="url(#b03)"/><circle cx="281.7" cy="656.3" r="1.06" fill="#ff2a50" opacity="1" filter="url(#b03)"/><circle cx="287.3" cy="656.5" r="0.97" fill="#ff2a50" opacity="1" filter="url(#b03)"/><circle cx="288.7" cy="660.5" r="0.79" fill="#ff2a50" opacity="1" filter="url(#b03)"/><circle cx="305.8" cy="671.0" r="1.76" fill="#ff2a50" opacity="1" filter="url(#b03)"/><circle cx="303.5" cy="670.0" r="1.14" fill="#ff2a50" opacity="1" filter="url(#b03)"/><circle cx="307.6" cy="672.7" r="0.88" fill="#ff2a50" opacity="1" filter="url(#b03)"/><circle cx="279.6" cy="677.6" r="1.41" fill="#ff2a50" opacity="1" filter="url(#b03)"/><circle cx="281.6" cy="678.5" r="0.88" fill="#ff2a50" opacity="1" filter="url(#b03)"/><circle cx="289.3" cy="679.8" r="1.50" fill="#ff2a50" opacity="1" filter="url(#b03)"/><circle cx="291.3" cy="682.3" r="1.14" fill="#ff2a50" opacity="1" filter="url(#b03)"/><circle cx="298.3" cy="677.6" r="1.50" fill="#ff2a50" opacity="1" filter="url(#b03)"/><circle cx="297.7" cy="679.9" r="0.88" fill="#ff2a50" opacity="1" filter="url(#b03)"/><circle cx="282.4" cy="684.8" r="0.79" fill="#ff2a50" opacity="1" filter="url(#b03)"/><circle cx="305.1" cy="681.9" r="0.70" fill="#ff2a50" opacity="1" filter="url(#b03)"/><circle cx="324.3" cy="677.9" r="1.50" fill="#ff2a50" opacity="1" filter="url(#b03)"/><circle cx="327.8" cy="675.7" r="0.70" fill="#ff2a50" opacity="1" filter="url(#b03)"/><circle cx="329.2" cy="684.5" r="1.23" fill="#ff2a50" opacity="1" filter="url(#b03)"/><circle cx="312.7" cy="690.9" r="1.58" fill="#ff2a50" opacity="1" filter="url(#b03)"/><circle cx="321.8" cy="691.7" r="1.41" fill="#ff2a50" opacity="1" filter="url(#b03)"/><circle cx="322.7" cy="693.5" r="0.88" fill="#ff2a50" opacity="1" filter="url(#b03)"/><rect x="324.96" y="704.10" width="12.1" height="1.9" fill="#e4e4e4"/></g>
<text x="390.50" y="536.80" font-size="17.4" font-weight="bold">H</text>
<text x="533.50" y="541.00" font-size="11.5" text-anchor="middle" font-style="italic">SNORA49</text>
<path d="M441.5 560.5 L448.0 565.0 L455.0 569.0 L463.0 574.5 L470.0 579.0 L477.0 582.5 L485.0 585.5 L495.0 587.0 L519.6 588.8 L530.0 592.3 L549.4 597.6 L568.7 599.3 L570.4 607.4 L617.0 607.4 L617.0 657.1 L570.4 657.1 L568.7 625.6 L551.0 623.8 L537.0 620.3 L526.6 615.0 L520.0 611.0 L512.6 606.3 L495.0 605.3 L490.0 603.5 L484.0 600.5 L477.0 596.0 L470.0 591.5 L464.0 586.5 L458.0 581.0 L452.0 575.5 L446.0 570.0 L441.5 562.5 Z" fill="#f0706a" opacity="0.3"/>
<path d="M441.5 560.5 L446.0 566.0 L452.0 572.0 L457.0 578.5 L463.0 585.0 L470.0 592.5 L477.0 600.0 L484.6 608.0 L498.6 611.6 L505.0 616.0 L512.6 620.3 L526.6 623.8 L535.0 628.0 L547.6 630.8 L568.7 634.3 L570.4 640.6 L629.3 640.6 L629.3 678.8 L607.9 678.8 L607.2 672.9 L601.2 671.8 L600.2 667.6 L568.7 666.9 L565.0 660.6 L547.6 659.9 L530.0 658.9 L526.6 653.6 L512.6 646.6 L505.0 638.0 L498.6 630.8 L484.6 624.9 L478.0 617.0 L472.0 609.0 L466.0 601.0 L460.0 593.5 L455.0 586.5 L450.0 580.0 L445.0 571.0 L441.5 562.5 Z" fill="#22c3c0" opacity="0.3"/>
<path d="M441.5 561.4 L442.8 561.4 L442.8 564.1 L444.1 564.1 L444.1 566.9 L445.2 566.9 L445.2 568.7 L446.3 568.7 L446.3 570.6 L447.4 570.6 L447.4 572.4 L448.5 572.4 L448.5 574.0 L449.6 574.0 L449.6 575.7 L451.2 575.7 L451.2 576.8 L452.9 576.8 L452.9 577.8 L454.0 577.8 L454.0 578.9 L455.1 578.9 L455.1 580.0 L456.2 580.0 L456.2 582.0 L457.3 582.0 L457.3 584.0 L458.4 584.0 L458.4 585.2 L459.4 585.2 L459.4 586.5 L460.5 586.5 L460.5 587.7 L461.6 587.7 L461.6 588.8 L462.7 588.8 L462.7 589.9 L463.8 589.9 L463.8 591.0 L464.9 591.0 L464.9 592.1 L466.0 592.1 L466.0 593.2 L467.1 593.2 L467.1 594.3 L468.2 594.3 L468.2 595.7 L469.3 595.7 L469.3 597.2 L470.4 597.2 L470.4 598.6 L471.5 598.6 L471.5 599.9 L472.6 599.9 L472.6 601.1 L473.7 601.1 L473.7 602.4 L474.8 602.4 L474.8 603.7 L475.9 603.7 L475.9 605.0 L477.0 605.0 L477.0 606.3 L478.1 606.3 L478.1 607.4 L479.1 607.4 L479.1 608.5 L480.2 608.5 L480.2 609.6 L481.3 609.6 L481.3 611.1 L482.4 611.1 L482.4 612.5 L483.5 612.5 L483.5 614.0 L484.6 614.0 L484.6 614.7 L485.7 614.7 L485.7 615.5 L486.8 615.5 L486.8 616.2 L488.5 616.2 L488.5 617.0 L490.1 617.0 L490.1 617.9 L494.5 617.9 L494.5 619.0 L497.8 619.0 L497.8 619.4 L498.9 619.4 L498.9 621.6 L500.0 621.6 L500.0 623.8 L501.1 623.8 L501.1 624.6 L502.1 624.6 L502.1 625.5 L503.2 625.5 L503.2 626.3 L504.3 626.3 L504.3 627.1 L505.4 627.1 L505.4 627.8 L506.5 627.8 L506.5 628.6 L507.6 628.6 L507.6 629.3 L508.7 629.3 L508.7 630.0 L509.8 630.0 L509.8 630.8 L510.9 630.8 L510.9 631.5 L512.0 631.5 L512.0 632.6 L513.1 632.6 L513.1 633.7 L514.2 633.7 L514.2 634.8 L516.4 634.8 L516.4 635.9 L524.9 635.9 L524.9 636.8 L526.1 636.8 L526.1 639.5 L527.2 639.5 L527.2 642.2 L528.4 642.2 L528.4 644.9 L547.6 644.9 L547.6 645.6 L549.4 645.6 L549.4 648.4 L566.9 648.4 L566.9 649.1 L568.7 649.1 L568.7 655.4 L600.2 655.4 L600.2 656.1 L601.2 656.1 L601.2 662.4 L607.2 662.4 L607.2 663.1 L607.9 663.1 L607.9 668.7 L629.3 668.7 L629.3 668.7" fill="none" stroke="#22c3c0" stroke-width="1.2"/>
<path d="M441.5 561.4 L442.7 561.4 L442.7 562.9 L444.0 562.9 L444.0 564.3 L445.2 564.3 L445.2 565.8 L446.3 565.8 L446.3 566.7 L447.4 566.7 L447.4 567.7 L448.5 567.7 L448.5 568.6 L449.6 568.6 L449.6 569.3 L450.7 569.3 L450.7 570.1 L451.8 570.1 L451.8 570.8 L452.9 570.8 L452.9 571.5 L454.0 571.5 L454.0 572.3 L455.1 572.3 L455.1 573.0 L456.2 573.0 L456.2 574.4 L457.3 574.4 L457.3 575.7 L458.9 575.7 L458.9 576.8 L460.5 576.8 L460.5 577.8 L461.6 577.8 L461.6 578.8 L462.7 578.8 L462.7 579.7 L463.8 579.7 L463.8 580.7 L464.9 580.7 L464.9 581.6 L466.0 581.6 L466.0 582.4 L467.1 582.4 L467.1 583.3 L468.8 583.3 L468.8 584.2 L470.4 584.2 L470.4 585.1 L472.0 585.1 L472.0 586.0 L473.7 586.0 L473.7 587.0 L475.4 587.0 L475.4 587.9 L477.0 587.9 L477.0 588.8 L478.6 588.8 L478.6 589.6 L480.2 589.6 L480.2 590.5 L481.3 590.5 L481.3 591.2 L482.4 591.2 L482.4 592.0 L483.5 592.0 L483.5 592.7 L485.1 592.7 L485.1 593.5 L486.8 593.5 L486.8 594.3 L488.5 594.3 L488.5 595.0 L490.1 595.0 L490.1 595.8 L493.4 595.8 L493.4 596.9 L498.9 596.9 L498.9 597.1 L510.9 597.1 L510.9 597.1 L512.5 597.1 L512.5 597.9 L514.2 597.9 L514.2 598.6 L515.7 598.6 L515.7 599.3 L517.1 599.3 L517.1 600.1 L518.6 600.1 L518.6 600.8 L520.8 600.8 L520.8 601.6 L522.9 601.6 L522.9 602.4 L525.1 602.4 L525.1 603.2 L527.3 603.2 L527.3 604.1 L531.7 604.1 L531.7 605.2 L535.0 605.2 L535.0 606.3 L536.0 606.3 L536.0 607.7 L537.1 607.7 L537.1 609.1 L549.4 609.1 L549.4 609.8 L551.1 609.8 L551.1 613.3 L568.7 613.3 L568.7 614.0 L569.4 614.0 L569.4 622.8 L570.4 622.8 L570.4 638.9 L617.0 638.9 L617.0 638.9" fill="none" stroke="#f0706a" stroke-width="1.2"/>
<line x1="498.90" y1="595.50" x2="498.90" y2="598.70" stroke="#f0706a" stroke-width="0.8" />
<line x1="505.00" y1="595.50" x2="505.00" y2="598.70" stroke="#f0706a" stroke-width="0.8" />
<line x1="544.00" y1="608.20" x2="544.00" y2="611.40" stroke="#f0706a" stroke-width="0.8" />
<line x1="560.00" y1="612.40" x2="560.00" y2="615.60" stroke="#f0706a" stroke-width="0.8" />
<line x1="583.00" y1="637.30" x2="583.00" y2="640.50" stroke="#f0706a" stroke-width="0.8" />
<line x1="606.00" y1="637.30" x2="606.00" y2="640.50" stroke="#f0706a" stroke-width="0.8" />
<line x1="612.00" y1="637.30" x2="612.00" y2="640.50" stroke="#f0706a" stroke-width="0.8" />
<line x1="617.00" y1="637.30" x2="617.00" y2="640.50" stroke="#f0706a" stroke-width="0.8" />
<line x1="535.00" y1="644.00" x2="535.00" y2="647.20" stroke="#22c3c0" stroke-width="0.8" />
<line x1="558.00" y1="647.50" x2="558.00" y2="650.70" stroke="#22c3c0" stroke-width="0.8" />
<line x1="585.00" y1="654.50" x2="585.00" y2="657.70" stroke="#22c3c0" stroke-width="0.8" />
<line x1="617.00" y1="667.10" x2="617.00" y2="670.30" stroke="#22c3c0" stroke-width="0.8" />
<line x1="629.30" y1="667.10" x2="629.30" y2="670.30" stroke="#22c3c0" stroke-width="0.8" />
<line x1="441.80" y1="623.20" x2="571.20" y2="623.20" stroke="#222" stroke-width="0.7" stroke-dasharray="2.2 1.8"/>
<line x1="500.60" y1="623.20" x2="500.60" y2="689.40" stroke="#222" stroke-width="0.7" stroke-dasharray="2.2 1.8"/>
<line x1="571.20" y1="623.20" x2="571.20" y2="689.40" stroke="#222" stroke-width="0.7" stroke-dasharray="2.2 1.8"/>
<line x1="432.70" y1="557.50" x2="432.70" y2="689.70" stroke="#333" stroke-width="0.7" />
<line x1="432.40" y1="689.40" x2="635.50" y2="689.40" stroke="#333" stroke-width="0.7" />
<line x1="430.60" y1="566.30" x2="432.70" y2="566.30" stroke="#333" stroke-width="0.6" />
<text x="429.20" y="570.30" font-size="11.3" text-anchor="end">1.00</text>
<line x1="430.60" y1="594.90" x2="432.70" y2="594.90" stroke="#333" stroke-width="0.6" />
<text x="429.20" y="598.90" font-size="11.3" text-anchor="end">0.75</text>
<line x1="430.60" y1="623.20" x2="432.70" y2="623.20" stroke="#333" stroke-width="0.6" />
<text x="429.20" y="627.20" font-size="11.3" text-anchor="end">0.50</text>
<line x1="430.60" y1="651.60" x2="432.70" y2="651.60" stroke="#333" stroke-width="0.6" />
<text x="429.20" y="655.60" font-size="11.3" text-anchor="end">0.25</text>
<line x1="430.60" y1="680.00" x2="432.70" y2="680.00" stroke="#333" stroke-width="0.6" />
<text x="429.20" y="684.00" font-size="11.3" text-anchor="end">0</text>
<line x1="442.20" y1="689.40" x2="442.20" y2="691.60" stroke="#333" stroke-width="0.6" />
<text x="442.20" y="701.30" font-size="11.3" text-anchor="middle">0</text>
<line x1="489.60" y1="689.40" x2="489.60" y2="691.60" stroke="#333" stroke-width="0.6" />
<text x="489.60" y="701.30" font-size="11.3" text-anchor="middle">30</text>
<line x1="535.20" y1="689.40" x2="535.20" y2="691.60" stroke="#333" stroke-width="0.6" />
<text x="535.20" y="701.30" font-size="11.3" text-anchor="middle">60</text>
<line x1="581.20" y1="689.40" x2="581.20" y2="691.60" stroke="#333" stroke-width="0.6" />
<text x="581.20" y="701.30" font-size="11.3" text-anchor="middle">90</text>
<line x1="626.20" y1="689.40" x2="626.20" y2="691.60" stroke="#333" stroke-width="0.6" />
<text x="626.20" y="701.30" font-size="11.3" text-anchor="middle">120</text>
<text x="536.20" y="715.60" font-size="11.7" text-anchor="middle">Months</text>
<text x="399.20" y="623.30" font-size="11.7" text-anchor="middle" transform="rotate(-90 399.20 623.30)">Survival probability</text>
<text x="441.90" y="650.80" font-size="11.6"><tspan font-style="italic">P</tspan> = 0.0001</text>
<rect x="482.20" y="555.90" width="15.80" height="11.40" fill="#f0706a" opacity="0.3"/>
<line x1="482.20" y1="561.60" x2="498.00" y2="561.60" stroke="#f0706a" stroke-width="1.0" />
<line x1="490.10" y1="558.80" x2="490.10" y2="564.40" stroke="#f0706a" stroke-width="1.0" />
<text x="503.30" y="565.20" font-size="11.4">High</text>
<text x="530.90" y="564.60" font-size="8.6">(n=183)</text>
<rect x="575.50" y="555.90" width="15.60" height="11.40" fill="#22c3c0" opacity="0.3"/>
<line x1="575.50" y1="561.60" x2="591.10" y2="561.60" stroke="#22c3c0" stroke-width="1.0" />
<line x1="583.30" y1="558.80" x2="583.30" y2="564.40" stroke="#22c3c0" stroke-width="1.0" />
<text x="596.10" y="565.20" font-size="11.4">Low</text>
<text x="620.20" y="564.60" font-size="8.6">(n=183)</text>
</svg>
</body></html>
